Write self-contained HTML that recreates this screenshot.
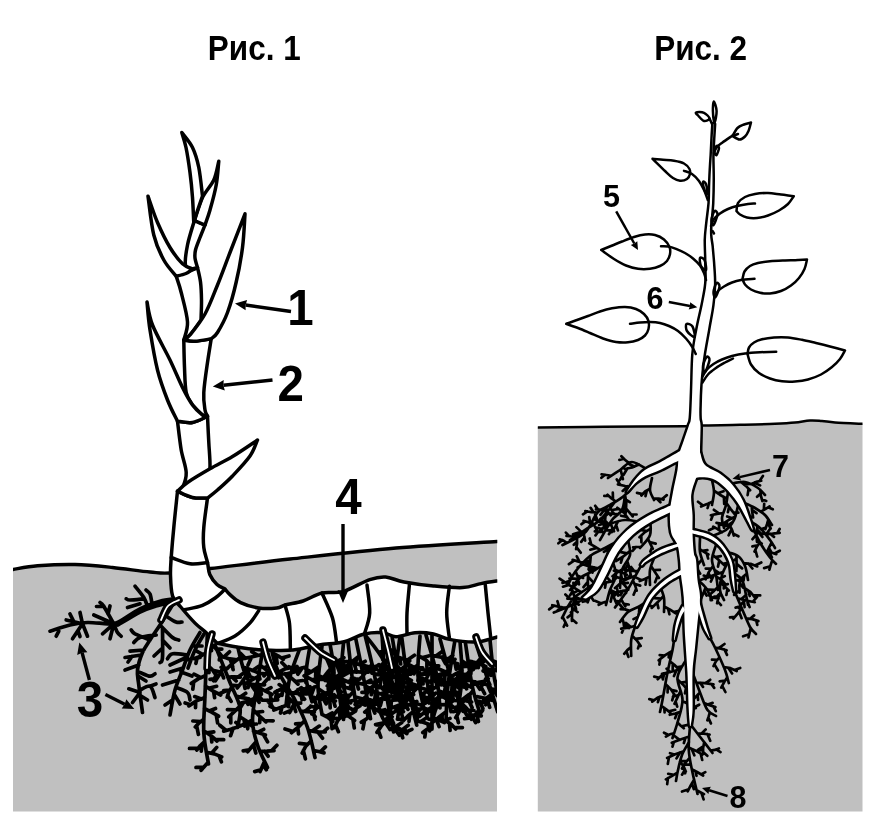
<!DOCTYPE html>
<html lang="ru"><head><meta charset="utf-8"><title>Рис. 1, Рис. 2</title>
<style>
html,body{margin:0;padding:0;background:#fff}
body{width:882px;height:828px;overflow:hidden}
svg{display:block;filter:grayscale(1)}
svg text{font-family:"Liberation Sans",Arial,Helvetica,sans-serif;font-weight:bold;fill:#000}
</style></head><body>
<svg width="882" height="828" viewBox="0 0 882 828">
<defs><clipPath id="cl2"><rect x="13" y="0" width="484.3" height="828"/></clipPath><clipPath id="cr2"><rect x="537.8" y="0" width="324.7" height="828"/></clipPath><clipPath id="cl"><rect x="13" y="540" width="484" height="271"/></clipPath>
<clipPath id="cr"><rect x="537.5" y="415" width="325" height="396"/></clipPath></defs>
<rect width="882" height="828" fill="#fff"/>
<path d="M13 569.5C17.1 568.9 27.2 566.6 37.5 565.8C47.8 565 62.5 564.2 75 564.5C87.5 564.8 100 566.2 112.5 567.5C125 568.8 140.4 571.1 150 572C159.6 572.9 160 573.6 170 573C180 572.4 190 570.8 210 568.5C230 566.2 259 562.4 290 559C321 555.6 361.5 550.9 396 548C430.5 545.1 480.2 542.6 497 541.5L497 811.6L13 811.6Z" fill="#c0c0c0" stroke="none" stroke-width="0" stroke-linecap="round" stroke-linejoin="round" />
<path d="M13 569.5C17.1 568.9 27.2 566.6 37.5 565.8C47.8 565 62.5 564.2 75 564.5C87.5 564.8 100 566.2 112.5 567.5C125 568.8 140.4 571.1 150 572C159.6 572.9 160 573.6 170 573C180 572.4 190 570.8 210 568.5C230 566.2 259 562.4 290 559C321 555.6 361.5 550.9 396 548C430.5 545.1 480.2 542.6 497 541.5" fill="none" stroke="#000" stroke-width="3.4" stroke-linecap="round" stroke-linejoin="round" clip-path="url(#cl2)"/>
<text transform="translate(254.3 59.6) scale(0.9 1)" font-size="35" text-anchor="middle">Рис. 1</text>
<g clip-path="url(#cl)">
<path d="M207.5 630C207.1 640.8 205.6 677.9 205 695C204.4 712.1 203.2 721 203.8 732.5C204.3 744 207.7 758.8 208.5 764M207 642.3L215.4 648.1L221.8 656.1M210.7 644.8L211.5 650.6M216 648.9L221.8 649.1M220.3 654.3L219.3 660M206.6 652.6L200.9 655.9L195.1 658.7M202.9 654.7L196.2 650.9M197.1 657.7L195.9 663.4M206.2 664L212.3 669.7L217.1 676.7M208.8 666.5L209 672.6M212.8 670.4L219.3 671.9M216 675L213.7 680.8M205.7 675.5L198.2 678.9L191.3 683.4M200.9 677.7L194 674.2M193.7 681.8L192.8 689.2M205.3 686.1L212.8 690.9L220.7 695M208.6 688.2L216.6 686.3M213.6 691.4L214.6 697.7M218.8 694L225.6 691M204.9 697.5L196.5 700.9L188.9 705.9M201.3 699L194.7 696.6M195.7 701.4L195.5 707.6M190.6 704.7L185.1 703M204.3 708.5L211.6 712.1L218.6 716.2M209.1 710.9L215.5 708.5M216.2 714.8L217.6 723M203.8 719.3L199.2 722.7L195.3 727M200.8 721.5L192.8 721M196.6 725.5L198.4 734.4M203.7 730.8L210.7 735.4L217 741M206.7 732.8L213.8 731.9M211.3 736L211.8 742M215.5 739.7L223.7 739.7M204.6 741.5L200.4 745.5L196.8 750M201.9 744.1L201.3 751.2M198.1 748.4L189.5 748.4M206.4 752.3L214.3 753.9L221.7 756.9M211.5 753.3L216.7 747.4M219.1 755.8L221.4 761.8M208.2 762.2L204.6 766.2L201.1 770.3M203.6 767.4L196 767.4M215 645C217.5 651.2 225.8 672.1 230 682.5C234.2 692.9 238.8 700 240 707.5C241.2 715 237.9 724.2 237.5 727.5M219.3 655.9L226 657.8L232.5 660.3M223.7 657.1L229.5 651.8M230.2 659.4L232.7 666.7M223.6 666.6L219.8 673.9L215.4 680.8M221.2 671.4L223.6 677.9M216.9 678.4L210 679.3M227.9 677.2L234.1 676.8L240.3 677.2M231.9 677L236.1 680.9M238.1 677L243 673.4M231.9 687L228.8 691.8L227.2 697.3M229.8 690.1L223.7 690.6M227.7 695.4L231.1 701.3M236.1 696.1L242.4 697.7L248.8 698.9M240.2 697.1L245.7 693.3M246.6 698.5L251.5 705M239.8 706.4L234.3 711.6L228.8 716.9M236.2 709.8L227.4 709.7M230.7 715L230.8 723M239.8 716.8L246.5 721.1L252.4 726.4M244.2 719.6L244.6 726.1M250.3 724.6L256.5 724M237.6 727L230.7 729.2L223.7 731.2M233.1 728.4L230.6 735.7M226.1 730.5L219.8 725.3M263.8 643.8C262.7 650.2 259.4 669.8 257.5 682.5C255.6 695.2 252.5 709.6 252.5 720C252.5 730.4 255 737.1 257.5 745C260 752.9 265.8 763.8 267.5 767.5M262 654.5L252.6 656.7L243.2 658.6M257.9 655.4L251.7 651.7M251.6 656.9L248 665.1M245.4 658.2L240.2 653.1M260.2 665.2L265.8 669.4L270.6 674.4M263.8 667.9L270.2 665.3M268.9 672.6L268.9 679M258.4 676.4L252.4 679.6L246.5 683M254.5 678.5L247.2 675.6M248.6 681.8L248.1 687.7M256.9 686.4L264.4 690.5L272 694.4M260.1 688.2L261.4 694.3M265.1 690.9L271 687.6M270.2 693.5L271.4 702.3M254.9 698.2L248.2 701.1L241.1 703.1M250.5 700.1L244.9 697.9M243.6 702.4L239.1 709.9M253.2 709.7L259.4 716L265.9 721.9M255.9 712.4L262.6 711.5M260 716.6L259.7 722.6M264.3 720.5L273.2 720.8M252.5 720L245.4 723.8L238 726.9M247.9 722.5L247.7 728.8M240.6 725.8L235.9 722.5M253.5 731L259.4 733.1L265.4 735M257.4 732.4L263.7 729.3M263.3 734.4L267.6 741.9M256.4 741.5L252 746.5L247.8 751.7M253.5 744.7L255.8 753M249.3 749.9L243.2 750.8M259.9 751.3L267 751.1L274 750.7M264.5 751.2L268.1 756.2M271.5 750.9L276.9 745.3M264.5 761.4L262.3 766.5L260.1 771.6M263.1 764.7L266.3 769.8M260.9 769.8L254.7 771.6M270 642.5C271.2 647.1 273.3 660.4 277.5 670C281.7 679.6 290 690.4 295 700C300 709.6 304.2 717.9 307.5 727.5C310.8 737.1 313.8 752.5 315 757.5M272.3 652.9L278 655.8L283.4 659.3M276 654.8L277.2 663.4M281.5 658.1L289 656M275.2 663.9L269.6 669.9L264 675.9M271.6 667.8L272.6 676.1M266 673.8L259.5 673.4M279.6 674.4L287.7 673.5L295.7 671.7M284.9 673.8L288.8 678.5M292.9 672.3L297 666.5M285 683.5L282.7 689.2L282 695.4M283.5 687.2L288.3 694.4M282.3 693.3L276.2 698.5M290.7 692.6L299.1 693.6L307.4 693.9M294.3 693L301.3 687.6M299.9 693.6L304.6 699.2M305.5 693.8L309.9 686.6M295.7 701.4L292.5 706.9L289.7 712.5M293.6 705L295.7 711.5M290.7 710.5L284.3 713.1M300.6 711.1L307.4 711.7L314.3 712.2M305 711.5L310.8 706.3M311.9 712L315.2 716.8M304.8 720.5L298.5 727L291.4 732.7M302.1 723.3L295.6 723.8M297.8 727.6L298.5 733.8M293 731.4L285 729M308.5 730.5L316.8 731.8L325.3 732M312.1 731.1L319.3 726.1M317.7 731.8L322.5 738.2M323.3 731.9L327.7 728.2M311.2 740.8L305.8 746.2L302.2 753M307.7 744.3L299.4 743.3M303.4 750.6L305.4 758.9M313.5 750.6L318.8 751.5L324 752.9M320.4 751.9L325.4 746.9M305 641C308.3 643.5 319.6 647.8 325 655.9C330.4 664 334.2 679.5 337.5 689.6C340.8 699.7 343.8 712.1 345 716.6M327.3 660L335.5 661.9L343.7 663.9M330.9 660.8L332.8 667M336.3 662.1L343.9 657.7M341.8 663.4L344.8 670.2M330.8 668.3L326.7 673.5L322.6 678.7M328.1 671.7L328.9 677.3M324 676.9L318.4 677.6M333.8 677.5L342.1 679.2L349.8 682.8M337.4 678.3L343.3 674.4M342.8 679.6L344.5 687.2M348 681.9L354.5 678.4M336.5 686.4L329.3 691.6L323.2 697.9M333.4 688.7L327.2 685.9M328.7 692.2L330.4 700M324.6 696.4L317.7 695.6M339.4 695.9L345.5 698.6L350.7 702.8M343.4 697.6L345.4 706M348.9 701.3L354.6 700.3M342 705.2L336.9 710.8L332.3 716.9M338.7 708.9L340.1 716.7M333.9 714.8L327.8 716M344.3 714.1L349.7 716.9L354.6 720.4M347.8 715.9L354.2 711.9M352.9 719.2L354.3 728M343.5 643C342.9 651.1 339.6 678.9 339.6 691.6C339.6 704.4 342.9 714.9 343.5 719.5M341.6 662.7L346.6 667.5L350.8 672.9M344.9 665.8L344.5 673.1M349.4 671L356.6 672.1M340.5 674.2L335.5 677.2L331.5 681.5M337.3 676.1L336.4 683M332.9 680L325.1 680M339.8 685L345.4 687.2L351.1 689.1M343.4 686.4L345.4 694.2M349.1 688.4L354.4 684M339.7 695.4L333.4 697.7L327.9 701.5M335.6 696.9L327.7 693.9M329.8 700.2L330.2 707.9M340.8 705.6L348.5 707.5L355.5 711.2M345.8 706.8L348.4 714M353.1 709.9L359.9 706M342.6 715L337.6 720.7L334.5 727.6M339.4 718.7L330.5 718M335.6 725.1L338.4 731.7M355 635C356.3 641.5 360.2 659.8 362.8 673.7C365.4 687.7 369.2 711.2 370.5 718.7M359.3 655.9L352.6 661.3L345.9 666.6M356.4 658.2L355.6 665.4M351.9 661.8L343.2 661.4M347.5 665.4L348.2 671.3M361.1 664.9L368.9 666.7L376.5 669.3M366.2 666.1L368.4 672.1M373.8 668.4L379 664.6M363.2 675.9L357 681.3L350.5 686.3M359.2 679.4L351.3 678.3M352.7 684.6L353.1 692.3M364.9 685.6L371.8 689.6L377.5 695.2M369.4 688.2L376.7 685.1M375.5 693.2L374.8 699.3M366.7 696L361.2 700.6L355.1 704.5M363.1 699L355.4 697.1M357.2 703.2L355.8 710.4M368.4 706L374.8 708.5L380.4 712.6M372.6 707.7L374.8 713.1M378.5 711.2L384.9 709.7M370 716L365.9 719.4L361.3 722.2M364.5 720.3L362.9 728.8M365 635C366.7 642.1 372.5 665 375 677.8C377.5 690.5 377.5 702.9 380 711.5C382.5 720.1 388.3 726.5 390 729.5M372.1 664.2L368.3 669.3L364.4 674.2M369.6 667.5L371.9 673.1M365.7 672.5L358.4 671.8M374.2 673.6L383.2 675.7L391.7 679.7M378.1 674.6L383.1 671M384.1 676.1L384.9 684M389.7 678.7L397.2 675.6M376 683.5L370.5 688.3L366.5 694.4M372.4 686.6L371.3 694.7M367.9 692.3L361.9 692.3M377.1 692.7L385.7 695.5L394.6 697.6M380.9 693.9L386.1 691.3M386.6 695.8L390.8 703.2M392.5 697.1L400.2 693M378.3 702.8L371.1 706.8L364.7 712.1M373.6 705.4L367.8 702.3M367 710.2L367.9 716.6M380.4 712.8L386.6 714.1L392.2 716.8M384.4 713.7L389.5 708.8M390.2 715.9L393.6 723.4M384.7 721.7L380.7 726.9L377 732.4M382.1 725.1L376.3 724.9M378.3 730.5L380.8 737.2M390 729.5L397.6 729L405.2 729.8M395 729.2L399.3 735.2M402.6 729.5L408.2 725.3M382 633.5C382.7 643 384.1 674.2 386 690.6C387.9 707.1 392.3 725.1 393.6 732M383.9 666.2L390.6 668.7L397.6 670.3M388.3 667.8L394 664.8M395.1 669.7L398.7 676.8M384.7 676.1L379.2 679.4L374.9 683.9M381.1 678.2L380.1 685.3M376.5 682.3L368.3 682.4M385.4 685.3L392.2 688.3L398.1 692.5M389.8 687.2L391.8 692.8M396.1 691L402.5 689.9M386.6 695.6L379.9 699.3L373 702.8M382.3 698L380.3 705.9M375.4 701.6L369.2 699.6M388.3 705.5L395.9 708.3L403.5 711.6M393.2 707.4L400 704.6M400.8 710.4L402.9 718.7M390.1 714.9L385.9 719.4L382.7 724.5M387.3 717.8L388.5 724.8M383.8 722.7L375.6 724.5M392.2 725L399.8 728.9L406.9 733.6M395.5 726.7L401.6 722.8M400.5 729.3L402.7 737.8M405.2 732.5L411.9 729.4M401 631.5C402.3 641.3 406.4 674.8 409 690.5C411.6 706.1 415.4 719.4 416.7 725.2M405 662.3L413.6 667L420.7 673.8M408.7 664.3L411.5 672.8M414.3 667.7L422.7 667.9M419 672.2L417.9 680.6M406.4 672.7L400.1 679.6L393.6 686.2M403.7 675.7L397.3 674.8M399.5 680.2L401.3 687.8M395.1 684.6L389.1 684.6M407.7 682.4L414 684.5L420.3 686.5M411.8 683.7L415.1 689.5M418.1 685.8L422.9 681.7M409.4 692.8L403.9 696.3L399.8 701.3M405.8 695.1L406.2 701.6M401.3 699.6L392.8 700.2M411.1 701.7L417.1 703.6L423 705.9M415 702.9L416.8 710.7M420.9 705.1L426.1 702.7M413.4 711.5L407.9 716L403 721M409.8 714.4L409 721.4M404.7 719.3L397.4 719.1M415.7 720.9L423.1 722.3L430.2 724.8M420.5 721.8L427.4 717.2M427.7 723.9L429.7 730.9M432 635.4C432 644.6 432 675.2 432 690.8C432 706.5 432 722.7 432 729.1M432 667.2L425.7 672L419.2 676.6M427.9 670.3L421.6 669.5M421.5 675L421.6 681.6M432 676.9L440.2 681.7L447.1 688.2M435.6 679L437.1 687.5M440.9 682.3L448.5 682.6M445.5 686.6L444.3 692.3M432 688.4L426.9 691.1L422.2 694.3M428.7 690.1L421.8 688.2M423.9 693.2L423.8 699.9M432 697.9L436.5 701.7L440.1 706.5M435 700.4L435.9 709.1M438.8 704.8L444.6 704.7M432 707L425.5 711.3L419.6 716.4M427.7 709.8L426.9 715.7M421.6 714.6L415.7 714.6M432 717.4L438.3 719.8L444.4 722.5M436.1 718.9L439.1 726.6M442.3 721.5L450 718.4M432 726.9L427.1 729.2L422.8 732.5M425.8 730.2L424.8 737M440 639C442.5 647.7 450.5 678.5 455 691.2C459.5 704 465 711.5 467 715.5M445.9 660.5L451.8 662.3L457.8 663.7M449.7 661.6L455 659.3M455.7 663.2L460.7 670.4M448.5 669.8L443.2 674.2L437.5 678.1M445.1 672.7L444.7 679.4M439.5 676.8L434.3 674.3M451.1 678.9L459.6 680.2L468.1 680.7M454.8 679.5L461.8 675.3M460.4 680.3L464.1 687.1M466.1 680.6L469.4 675.9M454.3 689.2L450.1 694L445.3 698.3M451.5 692.3L453.7 700.7M446.9 696.8L441.1 695.3M457.8 698.2L464.6 700.5L471.6 702.1M462.2 699.7L468.7 694.7M469.2 701.5L472.1 707.6M461.9 706.6L458.9 712.2L455.7 717.7M460 710.3L453.2 711.7M456.8 715.8L458.4 722.6M466.7 714.9L474 715.1L481.3 715.8M471.4 715L475.6 722.6M478.7 715.6L482.6 710.3M474.5 639C476.4 644.9 482.1 662 486 674.1C489.9 686.2 495.8 705.6 497.7 711.9M480.8 658.2L476.4 663.5L471.3 668.1M478 661.6L478.3 667.7M473.1 666.5L464.5 665.4M484.2 668.4L490.8 669.7L497.5 670.7M488.5 669.2L491.1 675.3M495.2 670.3L500.4 666.5M487.2 677.9L483.2 683.3L479.9 689M484.6 681.4L478.5 682.3M481.1 687L484.6 693.7M490.5 688.6L497 690.4L503.7 691.3M494.7 689.8L497 695.3M501.3 691L505.6 687.1M493.2 697.3L489 700.6L485.5 704.7M487.9 701.8L489.7 707.3M496.1 706.7L501.9 709L506.9 712.6M499.8 708.2L501 715M505.2 711.4L511.8 708.7M420 636C419.7 642.6 417.2 662.7 418 675.6C418.8 688.5 423.8 707.1 425 713.4M418.4 655.7L426.3 660.3L432.5 667.1M421.8 657.7L428.5 656M426.9 661L426.9 667.3M431 665.5L438.7 665.9M417.9 664.9L411 669.7L405.8 676.5M414.9 667L414.1 673.8M410.5 670.4L404.6 670.4M407 674.9L407.5 682.2M418 675.6L424.6 679.3L431.4 682.7M422.3 678L423.1 683.9M429 681.5L436.6 679.2M419.3 686.1L414.2 691L410.1 696.7M416 689.3L408.5 689M411.5 694.7L412.9 701.6M421.4 697L429.8 697.9L438 700.1M425 697.4L429.1 703M430.6 698.1L435.7 693.2M436.1 699.6L439.3 704.6M423.5 706.7L419.4 710.3L415.8 714.5M420.8 709L415 708.8M417 713L417.4 721.3M455 640C453.8 647.5 449.5 671.5 448 685C446.5 698.5 446.3 715 446 721M451.6 660.2L456.8 664.1L461.3 668.6M455 662.7L456.2 669.2M459.7 667L468.4 666.1M450 670.7L444.1 673.1L438.1 675.1M446.1 672.2L438.4 668.7M440.2 674.4L435.7 681.8M448.5 680.7L454.2 684.6L459.8 688.8M452.2 683.3L451.8 691M457.8 687.3L463.6 685.2M447.4 691.2L440.2 695.7L433.6 701.1M444.3 693.2L438.6 690.6M439.5 696.2L438.8 703.2M435.2 699.8L428.4 698.5M446.7 701.8L451.3 705.5L455.9 709.1M449.7 704.2L451 711.6M454.3 707.8L459.8 706.1M446.4 711.4L439.8 716.4L433.5 721.6M442.1 714.6L442.1 721.3M435.7 719.8L428.8 719.1M446 721L451.3 724.4L455.7 729M449.5 723.2L450.1 730.5M454.2 727.4L462.4 727.6M465 640C466.2 647.5 469.5 672.7 472 685C474.5 697.3 478.7 709 480 713.8M468 660.7L477.1 663L485.8 666.5M471.9 661.7L475.8 667.6M478 663.4L484.6 660.9M483.8 665.7L485.5 671.2M469.6 671.3L464.1 677.5L458.6 683.7M467.2 674L460 675M463.6 678.2L464.4 687M459.9 682.3L451.4 683M471.2 681L480.4 683.3L489.6 685.1M475.2 682L479.9 689.2M481.3 683.5L488.2 678.7M487.5 684.7L490.6 692M473.2 690.5L468 696.7L462.3 702.6M469.8 694.5L470.3 703.2M464.3 700.6L455.9 700.7M476 700.7L481.7 702.1L487.4 702.8M479.7 701.6L482.9 708.6M485.4 702.6L490.9 698.4M478.9 710.1L475.1 714.6L471.4 719.2M476.4 713L478.4 721.5M472.7 717.6L464.5 718.7M322 646C321.3 652.6 318 674.2 318 685.6C318 697 321.3 709.6 322 714.4M319.5 666.3L312 671.4L304.1 675.9M316.2 668.5L315.6 676.1M311.2 671.8L305.9 669.1M305.9 674.9L305.9 682.6M318.5 675.5L325 679L330.7 683.6M322.8 677.8L329 675.1M328.7 682L328.2 689.1M318 685.6L312.2 688.1L307.4 692.2M314.2 687.2L311.1 695.6M309.1 690.7L300.7 688.1M318.7 695.9L327 698.6L335.4 701M322.3 697.1L326.1 703.8M327.9 698.8L334.1 694.8M333.4 700.4L335.1 706.2M320.3 705.5L315.5 709.1L311.9 714.1M317.2 707.8L310.7 706.2M313.2 712.3L315.1 719.5M322 714.4L327.8 717.3L332.8 721.5M325.8 716.3L332.3 713M331.1 720L332.1 728.7M300 648C298.3 652.8 292.3 667.2 290 676.8C287.7 686.4 286.7 700.8 286 705.6M292.9 667.3L284.8 669L277.6 672.9M287.6 668.4L281.8 662.5M280.1 671.5L278.6 677.9M290 676.8L294.1 680.3L298 684.1M295.3 681.5L302.8 680.5M288.2 686.3L281.4 689L274.9 692.2M283.8 688L279.2 684.6M277.2 691L275.6 697.9M287 696.2L291 700.4L295.1 704.4M289.6 698.9L288.4 706.6M293.7 703L300.7 703.1M286 705.6L279.9 707.7L273.8 710M282 707L280.5 713M276 709.2L270 706.3M238 648C239.3 652.7 242 667.3 246 676C250 684.7 259.3 696 262 700M240.2 657.4L232.6 663.3L225.6 669.9M236.9 659.9L229.9 658.8M231.9 664L233.1 669.7M227.3 668.4L221.1 667.3M242.8 667L251.5 670.1L260.2 673.5M246.6 668.4L249.8 675.8M252.4 670.5L259.5 665.9M258.2 672.7L259.9 679M246 676L241.8 682.1L237.3 688M243.3 679.9L245 688.5M238.9 685.9L233 685.4M250.7 684.2L257.6 684.9L264.6 684.8M255.2 684.7L258.8 692M262.2 684.9L268 678.6M256.4 692.3L254.5 698.1L252.1 703.7M255.2 696.1L259.1 702.4M253 701.8L247.9 704.3M262 700L269.9 700.3L277.7 699.8M267.1 700.2L272 706M275 700L278.6 694.9M400 636C399.3 642.6 395.7 663.6 396 675.6C396.3 687.6 401 702.6 402 708M397.3 656.1L392.2 659.3L386.7 662.1M394 658.2L394.2 666.2M388.6 661.1L382.7 659.6M396.4 665.3L402.2 671.3L406.1 678.7M398.9 667.9L399.3 675.5M402.6 672L410.7 674.2M405.2 677L401.1 684.6M396 675.6L390.5 677.8L384.8 679.4M392.4 677L389.6 682.7M386.8 678.9L381.6 676.3M396.9 685L405.3 687.1L413.6 689.4M400.6 685.9L405.5 682.4M406.1 687.3L408.6 694.7M411.7 688.9L417.5 685.4M398.8 694.3L394.4 698.8L389.6 702.8M395.9 697.2L389.1 696.2M391.3 701.4L390.7 710.3M401 703.7L407.9 704.6L414.7 705.8M405.5 704.3L408 709.4M412.3 705.4L416.8 701.5M490 640C490.7 646 492.3 665.5 494 676C495.7 686.5 499 698.5 500 703M492.1 660.5L500.1 664L507.3 669M495.6 662L497.3 668.4M500.8 664.5L508 662.8M505.6 667.9L506.9 675.9M493.3 670.7L488.7 674.6L485.4 679.6M490.3 673.3L483.1 670.9M486.6 677.9L489.8 684.5M494.8 680.8L501.7 684.4L508.7 687.5M499.3 683.1L500.6 689M506.2 686.4L511.4 683.6M496.9 690.3L490.5 695.3L483.9 700.1M492.7 693.6L492.2 700.5M486.2 698.5L477.7 696.7M499.2 699.5L504.6 700.1L509.6 702.3M506.1 700.8L508.5 707.4M310 646C309.3 651.1 305.7 667.3 306 676.6C306.3 685.9 311 697.6 312 701.8M306.6 666.9L299.8 668.5L293.5 671.5M302.2 667.9L297.9 674.2M295.7 670.4L289 666.8M306 676.6L310.9 679.1L315.5 682M312.3 680L319.8 677M307.6 686.8L303.5 690.8L299.3 694.7M305 689.4L297.8 689.7M300.8 693.3L302 699.7M310.3 696.3L315.6 697.9L320.9 699.5M313.8 697.3L316.6 705.8M319.1 699L325.2 694.3M330 644C330.7 648.8 334 663.5 334 672.8C334 682.1 330.7 695.3 330 699.8M333.3 663.4L338.8 666.1L343.6 670.1M336.9 665.2L339.6 672.5M341.9 668.7L348 668.2M334 672.8L329.2 676.3L325.1 680.5M330.9 675L329.5 682.7M326.5 679L320.2 679.4M333.3 681.9L337.6 686.8L341.2 692.2M336.1 685.1L343.3 684.4M339.9 690.3L337.6 697.1M331.7 691L326.5 692.6L321.5 694.8M325 693.3L319.1 689.3M348 642C348.7 647.7 350.7 665.7 352 676.2C353.3 686.7 355.3 700.2 356 705M350.2 661.3L358.5 664.2L366.8 667.3M353.8 662.5L356.1 670M359.3 664.5L365.2 661.3M364.9 666.5L366.6 672.2M351.4 671L345.3 674.5L339.3 678M347.4 673.3L340.6 671.5M341.4 676.8L339.9 684.3M352.6 681.1L359 683.2L365.5 684.6M356.8 682.4L358.4 689M363.2 684.1L370.7 680.1M354 691.1L348.5 697.1L344.3 704.1M350.4 695L342.2 695.6M345.8 701.6L349.2 708.2M355.5 701.2L360.3 703L365.1 705.1M361.8 703.6L368.7 700.1M392 636C393 642 396 660 398 672C400 684 403 702 404 708M395.3 655.9L402.4 658.8L409.7 660.9M399.9 657.8L400.7 664M407.1 660.2L414.4 655.3M397 666.3L390.5 671.1L384.1 676.2M392.8 669.4L391.8 676.3M386.3 674.4L379.3 674.2M398.6 675.8L405.2 677.6L411.4 680.5M402.9 677L408.9 674M409.2 679.5L411.9 687.9M400.3 686L392.8 690L384.8 693M397.1 687.7L395.2 693.5M392 690.3L385.1 685.5M386.7 692.3L384.6 699.2M402 696.2L408.1 699.3L414.6 701.7M406 698.2L413.6 694.5M412.3 700.9L414 707.7M403.6 705.9L396.9 710.3L390.3 714.8M399.3 708.7L397.8 717.1M392.6 713.2L385.8 711.9M426 635C427.7 641.1 433.7 659.8 436 671.9C438.3 684 439.3 701.9 440 707.9M432 655.4L441.2 657.1L450.2 659.6M435.9 656.1L442.2 651.4M442.1 657.3L445.5 663.7M448.1 659L452.8 655.4M434.7 666.1L429.3 673L425.3 680.7M432.4 669.1L432.9 677.5M428.9 673.7L420.7 674.3M426.2 678.9L428.4 687M436.7 675.7L443.1 679.7L447.9 685.5M440.8 678.3L441.3 684.8M446.2 683.5L452.3 684.3M438 686L432.8 689L428.2 692.7M434.6 687.9L427.9 686.2M429.8 691.4L429.7 699.1M439 696.1L446.1 697.8L452.4 701.4M443.6 697.2L450.4 693.2M450.2 700.1L451.6 708.1M439.8 705.8L434.2 708.5L428.7 711.6M436.1 707.5L433.8 715.6M430.6 710.5L423.6 707.9M460 641C460.3 646.9 462.3 664.9 462 676.1C461.7 687.4 458.7 703.1 458 708.5M461.5 660.6L467.6 664.8L473.3 669.5M465.5 663.3L473.1 662.2M471.3 667.9L470.8 674M462 670.6L456.1 673.7L450.4 677.2M458.2 672.6L457.4 679.4M452.4 675.9L443.9 673.4M461.7 681.4L466.4 684.3L471.1 687.3M464.8 683.3L466.6 688.8M469.5 686.2L477.8 682.8M460.6 690.8L454 695L447.8 699.8M456.3 693.5L448.4 692.4M449.9 698.2L450 704.9M459.1 701.2L464.9 706.5L470.1 712.2M462.8 704.6L463.1 711.4M468.2 710.2L474 710.5M366 636C369 640.2 379 651.6 384 661.2C389 670.8 394 688.2 396 693.6M378.5 652.3L385 650.8L391.7 650.1M382.7 651.3L385 644.9M389.4 650.3L395.1 654.8M384 661.2L381.6 666.5L379.1 671.9M382.4 664.7L374.9 666.6M380 670L383 674.9M387.7 669.6L395.5 669.4L403.3 669.8M392.8 669.5L396.9 673.8M400.6 669.6L407.2 664.5M391.1 679L386.2 683.5L382.8 689.2M387.9 681.9L388.6 689.6M384 687.2L376.4 687.9M394 687.6L400.7 689.9L407.5 692.3M398.4 689.1L403.6 685.7M405.1 691.5L407.7 699.6" fill="none" stroke="#000" stroke-width="3.7" stroke-linecap="round" stroke-linejoin="round" />
<path d="M175 598.8C172.5 599.2 165.8 599.6 160 601.2C154.2 602.9 147.1 605.2 140 608.8C132.9 612.3 122.9 620 117.5 622.5C112.1 625 112.5 623.8 107.5 623.8C102.5 623.8 93.8 622.3 87.5 622.5C81.2 622.7 76.2 623.5 70 625C63.8 626.5 53.3 630.2 50 631.2M172 602.5C169.3 603.1 161.3 604.4 156 606C150.7 607.6 146.3 608.8 140 612C133.7 615.2 121.7 622.8 118 625M147.5 606.2C146.9 604.8 145.8 600.8 143.8 597.5C141.7 594.2 136.5 588.1 135 586.2M143.8 598.8C141.5 599 132.9 600 130 600C127.1 600 126.9 599 126.2 598.8M140 603.8L127.5 607.5M152 604C151.7 602.3 151 596.3 150 594C149 591.7 146.7 590.7 146 590M113.8 623.8C112.1 620.8 106 609.8 103.8 606.2C101.5 602.7 100.6 603.1 100 602.5M103.8 606.2L96.5 606.5M113.8 623.8L93.8 615M113.8 623.8L102.5 633.8M113.8 623.8L110 638.8M113.8 623.8C114.4 625.2 116.2 630.4 117.5 632.5C118.8 634.6 120.6 635.6 121.2 636.2M108 614L110 606M82.5 623.8L80 612.5M82.5 623.8L66.2 620M82.5 623.8L72.5 638.8M78 631L80 636.5M82.5 623.8L87.5 636.2M58.8 631.2L56.2 636.2M74 622L70 614M172.5 605C170.4 608.3 163.8 619.2 160 625C156.2 630.8 152.9 635.4 150 640C147.1 644.6 144.6 647.5 142.5 652.5C140.4 657.5 138.1 664.6 137.5 670C136.9 675.4 137.9 677.9 138.8 685C139.6 692.1 141.9 707.9 142.5 712.5M150 640C147.5 639 138.1 635.4 135 633.8C131.9 632.1 131.9 630.6 131.2 630M143.8 650L130 651.2M141.2 655L125 657.5M132 656.5L128 662M138.8 665L125 670M140 672.5C141.7 673.1 147.5 676 150 676.2C152.5 676.5 154.2 674.2 155 673.8M138 676L146 681M140 692.5L128.8 688.8M140 692.5L132.5 702.5M140 690C141.7 689.4 147.5 685 150 686.2C152.5 687.5 154.2 695.6 155 697.5M141 696L147.5 700M150 686.2L156 684M160 625C162.1 627.1 169.4 635 172.5 637.5C175.6 640 177.7 639.6 178.8 640M162.5 627.5C162.5 632.5 162.9 651.7 162.5 657.5C162.1 663.3 160.4 661.7 160 662.5M156.2 635C153.5 635.4 143.8 636.2 140 637.5C136.2 638.8 134.8 641.7 133.8 642.5M162.5 640L170 648M162.5 648L154 656M166 616C167.7 617 173.3 621 176 622C178.7 623 181 622 182 622M200 632.5C198.3 635.4 192.9 643.8 190 650C187.1 656.2 185 663.3 182.5 670C180 676.7 177.1 682.5 175 690C172.9 697.5 170.8 710.8 170 715M204 634C202.5 636.7 197.7 644.3 195 650C192.3 655.7 189.2 665 188 668M187.5 655C185 654.8 175.8 653.1 172.5 653.8C169.2 654.4 168.3 657.9 167.5 658.8M186.2 657.5L170 665M185 660L200 657.5M192 646L202 646M178.8 680L162.5 685M176.2 687.5C178.1 688.3 185.2 690.4 187.5 692.5C189.8 694.6 189.6 698.8 190 700M172.5 700L165 705M181 672L192 676M183 668L170 672M174 694L180 704" fill="none" stroke="#000" stroke-width="3.7" stroke-linecap="round" stroke-linejoin="round" />
</g>
<g clip-path="url(#cl2)">
<path d="M177.5 491.2C176.9 497.3 174.8 516.5 173.8 527.5C172.7 538.5 171.8 549.6 171.2 557.5C170.7 565.4 170.3 568.6 170.5 575C170.7 581.4 170.9 590.7 172.6 596C174.3 601.3 177 602.4 180.8 607C184.6 611.6 191.1 619.1 195.3 623.4C199.5 627.6 202.4 629.2 206 632.5C209.6 635.8 215.2 641.2 217 643C220.3 643.7 230.1 645.9 237 647C243.9 648.1 249.4 649.2 258.7 649.7C268 650.2 282.9 650.8 293 650C303.1 649.2 310.7 646.3 319 645C327.3 643.7 335.4 643.8 343 642C350.6 640.2 357.7 635.5 364.4 634C371.1 632.5 377.7 632.3 383 632.8C388.3 633.2 390.7 636.7 396 636.7C401.3 636.7 408.8 633.2 415 632.8C421.2 632.3 427.8 632.9 433.5 634C439.2 635.1 442.3 638.1 449.4 639.4C456.5 640.7 468.1 642.4 476 642C483.9 641.6 493.5 637.8 497 637L497 581C494.3 581.4 486.7 582.5 481 583.6C475.3 584.7 470.6 587.2 462.7 587.6C454.8 588 443.3 586.9 433.5 586C423.7 585.1 412 583.5 404 582C396 580.5 391.3 577.4 385.6 577C379.9 576.6 376.8 577.2 369.7 579.6C362.6 582 350.9 589.4 343 591.6C335.1 593.8 328.7 591.4 322 593C315.3 594.6 309 599 303 601C297 603 290.3 603.6 285.9 604.8C281.5 606 281.3 607.5 276.8 608C272.3 608.5 264.7 608.9 258.7 608C252.7 607.1 245.4 604.9 240.6 602.6C235.8 600.3 232.3 596.7 229.7 594.4C227.1 592.1 225.8 589.9 225 589C223.7 588.2 219.5 586.9 217 584.5C214.5 582.1 211.4 578.2 209.8 574.5C208.2 570.8 208.5 567 207.5 562.5C206.5 558 204.4 553.3 203.8 547.5C203.1 541.7 203.1 535.8 203.8 527.5C204.4 519.2 206.9 502.9 207.5 498Z" fill="#fff" stroke="none" stroke-width="0" stroke-linecap="round" stroke-linejoin="round" />
<path d="M177.5 491.2C176.9 497.3 174.8 516.5 173.8 527.5C172.7 538.5 171.8 549.6 171.2 557.5C170.7 565.4 170.3 568.6 170.5 575C170.7 581.4 170.9 590.7 172.6 596C174.3 601.3 177 602.4 180.8 607C184.6 611.6 191.1 619.1 195.3 623.4C199.5 627.6 202.4 629.2 206 632.5C209.6 635.8 215.2 641.2 217 643C220.3 643.7 230.1 645.9 237 647C243.9 648.1 249.4 649.2 258.7 649.7C268 650.2 282.9 650.8 293 650C303.1 649.2 310.7 646.3 319 645C327.3 643.7 335.4 643.8 343 642C350.6 640.2 357.7 635.5 364.4 634C371.1 632.5 377.7 632.3 383 632.8C388.3 633.2 390.7 636.7 396 636.7C401.3 636.7 408.8 633.2 415 632.8C421.2 632.3 427.8 632.9 433.5 634C439.2 635.1 442.3 638.1 449.4 639.4C456.5 640.7 468.1 642.4 476 642C483.9 641.6 493.5 637.8 497 637" fill="none" stroke="#000" stroke-width="3.5" stroke-linecap="round" stroke-linejoin="round" />
<path d="M497 581C494.3 581.4 486.7 582.5 481 583.6C475.3 584.7 470.6 587.2 462.7 587.6C454.8 588 443.3 586.9 433.5 586C423.7 585.1 412 583.5 404 582C396 580.5 391.3 577.4 385.6 577C379.9 576.6 376.8 577.2 369.7 579.6C362.6 582 350.9 589.4 343 591.6C335.1 593.8 328.7 591.4 322 593C315.3 594.6 309 599 303 601C297 603 290.3 603.6 285.9 604.8C281.5 606 281.3 607.5 276.8 608C272.3 608.5 264.7 608.9 258.7 608C252.7 607.1 245.4 604.9 240.6 602.6C235.8 600.3 232.3 596.7 229.7 594.4C227.1 592.1 225.8 589.9 225 589C223.7 588.2 219.5 586.9 217 584.5C214.5 582.1 211.4 578.2 209.8 574.5C208.2 570.8 208.5 567 207.5 562.5C206.5 558 204.4 553.3 203.8 547.5C203.1 541.7 203.1 535.8 203.8 527.5C204.4 519.2 206.9 502.9 207.5 498" fill="none" stroke="#000" stroke-width="3.5" stroke-linecap="round" stroke-linejoin="round" />
<path d="M171.2 557.5C174.4 558.5 184 562.9 190 563.8C196 564.6 204.6 562.7 207.5 562.5" fill="none" stroke="#000" stroke-width="3.5" stroke-linecap="round" stroke-linejoin="round" />
<path d="M184.4 609.8C187.4 609 197.4 607.3 202.5 605.3C207.6 603.3 211.6 600.6 215.2 598C218.8 595.4 222.8 591.2 224.3 589.9" fill="none" stroke="#000" stroke-width="3.5" stroke-linecap="round" stroke-linejoin="round" />
<path d="M218 643.3C220.8 642.1 229.7 639.3 235 636C240.3 632.7 245.7 627.6 249.6 623.4C253.5 619.2 257.2 612.8 258.7 610.7" fill="none" stroke="#000" stroke-width="3.5" stroke-linecap="round" stroke-linejoin="round" />
<path d="M285 605.3C285.8 608.3 288.6 616 289.5 623.4C290.4 630.8 290.2 645.3 290.4 649.7" fill="none" stroke="#000" stroke-width="3.5" stroke-linecap="round" stroke-linejoin="round" />
<path d="M322 593C323.8 597.2 330.1 609.8 332.5 618C334.9 626.2 335.8 638 336.5 642" fill="none" stroke="#000" stroke-width="3.5" stroke-linecap="round" stroke-linejoin="round" />
<path d="M367 585C367.4 589.6 370.1 604.6 369.7 612.8C369.3 621 365.3 630.5 364.4 634" fill="none" stroke="#000" stroke-width="3.5" stroke-linecap="round" stroke-linejoin="round" />
<path d="M409.5 583.6C409.1 588.5 407.4 604.4 407 612.8C406.6 621.2 407 630.5 407 634" fill="none" stroke="#000" stroke-width="3.5" stroke-linecap="round" stroke-linejoin="round" />
<path d="M449.4 586.3C448.9 590.7 446.7 604.2 446.7 612.8C446.7 621.4 448.9 633.8 449.4 638" fill="none" stroke="#000" stroke-width="3.5" stroke-linecap="round" stroke-linejoin="round" />
<path d="M485.3 585C485.8 589.6 487.1 604.2 488 612.8C488.9 621.4 490.2 632.7 490.6 636.7" fill="none" stroke="#000" stroke-width="3.5" stroke-linecap="round" stroke-linejoin="round" />
<path d="M179 600C177.2 601 171 602.7 168 606C165 609.3 162.2 617.7 161 620" fill="none" stroke="#000" stroke-width="7.5" stroke-linecap="round" stroke-linejoin="round" />
<path d="M179 600C177.2 601 171 602.7 168 606C165 609.3 162.2 617.7 161 620" fill="none" stroke="#fff" stroke-width="1.8" stroke-linecap="round" stroke-linejoin="round" />
<path d="M212 634C211.3 636.7 208.8 644.3 208 650C207.2 655.7 207.2 665 207 668" fill="none" stroke="#000" stroke-width="7.5" stroke-linecap="round" stroke-linejoin="round" />
<path d="M212 634C211.3 636.7 208.8 644.3 208 650C207.2 655.7 207.2 665 207 668" fill="none" stroke="#fff" stroke-width="1.8" stroke-linecap="round" stroke-linejoin="round" />
<path d="M263 642C263.8 645 266 654.3 268 660C270 665.7 273.8 673.3 275 676" fill="none" stroke="#000" stroke-width="7.5" stroke-linecap="round" stroke-linejoin="round" />
<path d="M263 642C263.8 645 266 654.3 268 660C270 665.7 273.8 673.3 275 676" fill="none" stroke="#fff" stroke-width="1.8" stroke-linecap="round" stroke-linejoin="round" />
<path d="M305 638C307.5 640.3 315.2 648.3 320 652C324.8 655.7 331.7 658.7 334 660" fill="none" stroke="#000" stroke-width="7.5" stroke-linecap="round" stroke-linejoin="round" />
<path d="M305 638C307.5 640.3 315.2 648.3 320 652C324.8 655.7 331.7 658.7 334 660" fill="none" stroke="#fff" stroke-width="1.8" stroke-linecap="round" stroke-linejoin="round" />
<path d="M383 630C383.8 633.3 386.5 643.7 388 650C389.5 656.3 391.3 665 392 668" fill="none" stroke="#000" stroke-width="7.5" stroke-linecap="round" stroke-linejoin="round" />
<path d="M383 630C383.8 633.3 386.5 643.7 388 650C389.5 656.3 391.3 665 392 668" fill="none" stroke="#fff" stroke-width="1.8" stroke-linecap="round" stroke-linejoin="round" />
<path d="M476 637C477 639.5 479.3 647.5 482 652C484.7 656.5 490.3 662 492 664" fill="none" stroke="#000" stroke-width="7.5" stroke-linecap="round" stroke-linejoin="round" />
<path d="M476 637C477 639.5 479.3 647.5 482 652C484.7 656.5 490.3 662 492 664" fill="none" stroke="#fff" stroke-width="1.8" stroke-linecap="round" stroke-linejoin="round" />
</g>
<path d="M177.5 421.2C178.1 426 179.8 441.5 181.2 450C182.7 458.5 186 466.2 186.2 472.5C186.5 478.8 184 484.4 182.5 487.5C181 490.6 178.3 490.6 177.5 491.2L177.5 491.2C180 492.3 187.5 496.4 192.5 497.5C197.5 498.6 205 497.9 207.5 498L207.5 498C207.9 493 209.8 477.2 210 468C210.2 458.8 209.2 451.1 208.8 442.5C208.3 433.9 207.7 420.6 207.5 416.2L207.5 416.2C205 417.3 197.5 421.7 192.5 422.5C187.5 423.3 180 421.5 177.5 421.2Z" fill="#fff" stroke="#000" stroke-width="3.5" stroke-linecap="round" stroke-linejoin="round" />
<path d="M177.5 491.2C179.2 489.8 182.1 486.2 187.5 482.5C192.9 478.8 202.5 473.1 210 468.8C217.5 464.4 224.6 461.3 232.5 456.5C240.4 451.7 253.3 442.8 257.5 440L257.5 440C256.2 442.7 254.2 450 250 456C245.8 462 237.9 470.3 232.5 476C227.1 481.7 221.7 486.3 217.5 490C213.3 493.7 209.2 496.7 207.5 498L207.5 498C205 497.9 197.5 498.6 192.5 497.5C187.5 496.4 180 492.3 177.5 491.2Z" fill="#fff" stroke="#000" stroke-width="3.5" stroke-linecap="round" stroke-linejoin="round" />
<path d="M183.8 340C183.9 344.6 184.1 358.8 184.5 367.5C184.9 376.2 184.9 386.2 186.2 392.5C187.6 398.8 191.5 402.9 192.5 405L192.5 405C194.2 406.7 200 413.1 202.5 415C205 416.9 206.7 416 207.5 416.2L207.5 416.2C207.1 415.2 205.6 414 205 410C204.4 406 203.3 400.4 203.8 392.5C204.2 384.6 206.2 371.5 207.5 362.5C208.8 353.5 210.6 342.7 211.2 338.8L211.2 338.8C208.5 339.2 199.6 341 195 341.2C190.4 341.5 185.6 340.2 183.8 340Z" fill="#fff" stroke="#000" stroke-width="3.5" stroke-linecap="round" stroke-linejoin="round" />
<path d="M147 302C147.5 306.7 148.2 318.7 150 330C151.8 341.3 154.6 358.3 157.5 370C160.4 381.7 164.2 391.5 167.5 400C170.8 408.5 175.8 417.7 177.5 421.2L177.5 421.2C180 421.5 187.5 423.3 192.5 422.5C197.5 421.7 205 417.3 207.5 416.2L207.5 416.2C206.7 416 205 416.9 202.5 415C200 413.1 195.8 409.6 192.5 405C189.2 400.4 186.2 395 182.5 387.5C178.8 380 175 370.4 170 360C165 349.6 156.3 334.7 152.5 325C148.7 315.3 147.9 305.8 147 302Z" fill="#fff" stroke="#000" stroke-width="3.5" stroke-linecap="round" stroke-linejoin="round" />
<path d="M176.2 276.2C177.1 279 179.4 284.9 181.2 292.5C183.1 300.1 187.1 314.1 187.5 322C187.9 329.9 184.4 337 183.8 340L183.8 340C184.8 339.2 187.1 338.3 190 335C192.9 331.7 199.2 322.5 201 320L201 320C201.1 316.7 201.6 306.3 201.5 300C201.4 293.7 201.2 287.4 200.5 282C199.8 276.6 198 269.9 197.5 267.5L197.5 267.5C196.7 267.9 196 268.5 192.5 270C189 271.5 179 275.2 176.2 276.2Z" fill="#fff" stroke="#000" stroke-width="3.5" stroke-linecap="round" stroke-linejoin="round" />
<path d="M245 213.8C242.5 220.2 234.6 240.6 230 252.5C225.4 264.4 221.7 274.8 217.5 285C213.3 295.2 209.6 305.7 205 314C200.4 322.3 193.5 330.7 190 335C186.5 339.3 184.8 339.2 183.8 340L183.8 340C185.6 340.2 190.4 341.5 195 341.2C199.6 341 208.5 339.2 211.2 338.8L211.2 338.8C212.3 337.7 214.8 336.9 217.5 332.5C220.2 328.1 224.4 320.9 227.5 312.5C230.6 304.1 233.8 292.8 236.2 282C238.8 271.2 241 258.9 242.5 247.5C244 236.1 244.6 219.4 245 213.8Z" fill="#fff" stroke="#000" stroke-width="3.5" stroke-linecap="round" stroke-linejoin="round" />
<path d="M193.8 222.5C192.7 226.2 188.9 237.9 187.5 245C186.1 252.1 184.7 261 185.5 265C186.3 269 191.3 268.3 192.5 269L192.5 269L197.5 267.5L197.5 267.5C197.1 265.9 195.3 260.9 195 258C194.7 255.1 194.7 253.4 195.5 250C196.3 246.6 198.4 241.7 200 237.5C201.6 233.3 204.2 227.1 205 225L205 225C203.5 224.4 198.1 221.7 196.2 221.2C194.4 220.8 194.2 222.3 193.8 222.5Z" fill="#fff" stroke="#000" stroke-width="3.5" stroke-linecap="round" stroke-linejoin="round" />
<path d="M148 196.2C149 202.7 151.1 224.4 153.8 235C156.4 245.6 160 253.1 163.8 260C167.5 266.9 174.2 273.5 176.2 276.2L176.2 276.2C177.9 275.8 183.3 274.7 186 273.5C188.7 272.3 191.4 269.8 192.5 269L192.5 269C190.8 268.1 186.2 267.3 182.5 263.8C178.8 260.2 174.2 254.4 170 247.5C165.8 240.6 161.2 231 157.5 222.5C153.8 214 149.6 200.6 148 196.2Z" fill="#fff" stroke="#000" stroke-width="3.5" stroke-linecap="round" stroke-linejoin="round" />
<path d="M218.8 161.2C217.9 164.4 216.5 174 213.8 180C211 186 205.6 191 202.5 197.5C199.4 204 196.2 215.4 195 219L195 219C195.2 219.4 194.6 220.2 196.2 221.2C197.9 222.2 203.5 224.4 205 225L205 225C205.8 222.5 208.1 216.7 210 210C211.9 203.3 214.8 193.1 216.2 185C217.7 176.9 218.3 165.2 218.8 161.2Z" fill="#fff" stroke="#000" stroke-width="3.5" stroke-linecap="round" stroke-linejoin="round" />
<path d="M181.8 132.5C182.5 135 184.6 140.8 186 147.5C187.4 154.2 188.9 164.2 190 172.5C191.1 180.8 191.9 189.2 192.5 197.5C193.1 205.8 193.5 218.3 193.8 222.5L193.8 222.5C194.3 220.8 195.5 216.4 197 212C198.5 207.6 201.6 198.7 202.5 196L202.5 196C201.9 191.2 200.4 175.6 198.8 167.5C197.1 159.4 195.3 153.3 192.5 147.5C189.7 141.7 183.5 135 181.8 132.5Z" fill="#fff" stroke="#000" stroke-width="3.5" stroke-linecap="round" stroke-linejoin="round" />
<text transform="translate(300.5 325) scale(0.96 1)" font-size="49.5" text-anchor="middle">1</text>
<line x1="291" y1="311.5" x2="245.6" y2="305" stroke="#000" stroke-width="3.4"/>
<polygon points="235,303.5 247.1,299.9 245.6,305 245.6,310.3" fill="#000"/>
<text transform="translate(290.8 401) scale(0.96 1)" font-size="49.5" text-anchor="middle">2</text>
<line x1="272.5" y1="380" x2="223.4" y2="385.3" stroke="#000" stroke-width="3.4"/>
<polygon points="212.8,386.5 223.7,380 223.4,385.3 224.8,390.5" fill="#000"/>
<text transform="translate(90 717) scale(0.96 1)" font-size="49.5" text-anchor="middle">3</text>
<line x1="89.4" y1="680" x2="82.1" y2="652.8" stroke="#000" stroke-width="3.4"/>
<polygon points="79.3,642.5 87.4,652.2 82.1,652.8 77.2,655" fill="#000"/>
<line x1="105.4" y1="694.6" x2="124.7" y2="704.2" stroke="#000" stroke-width="3.4"/>
<polygon points="134.3,709 121.7,708.6 124.7,704.2 126.3,699.2" fill="#000"/>
<text transform="translate(348.5 513.5) scale(0.96 1)" font-size="49.5" text-anchor="middle">4</text>
<line x1="343" y1="524" x2="343" y2="590.9" stroke="#000" stroke-width="3.4"/>
<polygon points="343,603 337.5,590 343,590.9 348.5,590" fill="#000"/>
<path d="M537.8 427.5C548.8 427.4 579.5 427 604 426.8C628.5 426.6 668.8 426.5 685 426.3C701.2 426.1 691.8 425.8 701 425.5C710.2 425.2 727.7 425.1 740 424.8C752.3 424.5 765.8 424.2 775 423.8C784.2 423.4 789.2 423.1 795 422.5C800.8 421.9 805.5 420.8 810 420.5C814.5 420.2 817.8 420.7 822 421C826.2 421.3 828.2 422 835 422.5C841.8 423 857.9 423.6 862.5 423.8L862.5 811.6L537.8 811.6Z" fill="#c0c0c0" stroke="none" stroke-width="0" stroke-linecap="round" stroke-linejoin="round" />
<path d="M537.8 427.5C548.8 427.4 579.5 427 604 426.8C628.5 426.6 668.8 426.5 685 426.3C701.2 426.1 691.8 425.8 701 425.5C710.2 425.2 727.7 425.1 740 424.8C752.3 424.5 765.8 424.2 775 423.8C784.2 423.4 789.2 423.1 795 422.5C800.8 421.9 805.5 420.8 810 420.5C814.5 420.2 817.8 420.7 822 421C826.2 421.3 828.2 422 835 422.5C841.8 423 857.9 423.6 862.5 423.8" fill="none" stroke="#000" stroke-width="2.5" stroke-linecap="round" stroke-linejoin="round" clip-path="url(#cr2)"/>
<text transform="translate(700.6 59.6) scale(0.9 1)" font-size="35" text-anchor="middle">Рис. 2</text>
<path d="M713.6 124C713.5 125.8 713.2 129.8 712.9 135C712.6 140.2 712.3 147.5 711.9 155C711.4 162.5 710.8 172 710.5 180C710.1 188 710.3 195.7 709.8 203C709.2 210.3 708 217.8 707.4 224C706.7 230.2 706.2 233.7 706 240C705.9 246.3 706.5 254.8 706.5 262C706.6 269.2 707.2 275.8 706.5 283C705.9 290.2 704.3 297.2 702.8 305C701.2 312.8 698.9 321.7 697.4 330C695.8 338.3 694.4 344.7 693.5 355C692.7 365.3 692.7 381.5 692.2 392C691.8 402.5 691.6 412.3 691 418C690.5 423.7 689.9 422.3 688.8 426C687.6 429.7 685.6 435.2 684 440C682.4 444.8 680.1 450 679 455C677.9 460 678.5 463.8 677.5 470C676.5 476.2 674.2 485 673 492C671.8 499 670.3 505.2 670 512C669.7 518.8 670 527 671.2 532.5C672.5 538 676 540.4 677.5 545C679 549.6 679.4 555 680 560C680.6 565 680.4 568.8 681 575C681.6 581.2 683.1 587.5 683.8 597.5C684.4 607.5 684.4 622.5 685 635C685.6 647.5 686.9 660 687.5 672.5C688.1 685 688.3 701.1 688.8 710C689.2 718.9 689.8 723.3 690 726L690.6 726C690.9 723.3 692.2 718.9 692.5 710C692.8 701.1 692.1 682.9 692.5 672.5C692.9 662.1 694.2 655.8 695 647.5C695.8 639.2 696.7 630.8 697.5 622.5C698.3 614.2 700 604.6 700 597.5C700 590.4 698.2 586.2 697.5 580C696.8 573.8 696.6 564.6 696 560C695.4 555.4 694.3 557.1 693.8 552.5C693.2 547.9 692.7 538.8 692.5 532.5C692.3 526.2 692.7 521.2 692.5 515C692.3 508.8 690.7 501.2 691.2 495C691.8 488.8 694.5 483.2 696 478C697.5 472.8 699.3 468.7 700 464C700.7 459.3 699.9 456.3 700 450C700.1 443.7 700.6 431.3 700.5 426C700.4 420.7 699.5 421.5 699.4 418C699.2 414.5 699.2 410.5 699.4 405C699.5 399.5 699.7 392.5 700.2 385C700.8 377.5 701.5 369.2 702.8 360C704 350.8 706.3 339.2 707.9 330C709.4 320.8 711.2 312.8 712.2 305C713.2 297.2 713.8 290.2 713.9 283C713.9 275.8 713.2 268.2 712.8 262C712.3 255.8 711.8 250.5 711.4 246C710.9 241.5 710.1 238.7 710 235C709.8 231.3 709.9 229.3 710.2 224C710.6 218.7 711.6 210.3 712 203C712.3 195.7 712.5 188 712.5 180C712.6 172 712.1 162.5 712.2 155C712.4 147.5 712.9 140.2 713.2 135C713.5 129.8 713.8 125.8 713.9 124Z" fill="#000" stroke="#000" stroke-width="5.0" stroke-linecap="round" stroke-linejoin="round" />
<path d="M682 450C681.2 450.4 681.2 450.4 677.5 452.5C673.8 454.6 665.4 459.6 660 462.5C654.6 465.4 649.2 467.1 645 470C640.8 472.9 638 476.3 635 480C632 483.7 628.3 490 627 492L628 491C629.3 489.6 633.2 485 636 482.5C638.8 480 641 478.3 645 476.2C649 474.2 654.6 472.5 660 470C665.4 467.5 673.8 462.6 677.5 461.2C681.2 459.9 681.2 461.9 682 462Z" fill="#000" stroke="#000" stroke-width="5.0" stroke-linecap="round" stroke-linejoin="round" />
<path d="M672 505C671 505.4 670.3 505.6 666.2 507.5C662.2 509.4 654 512.5 647.5 516.2C641 520 633.3 524.8 627.5 530C621.7 535.2 616.7 541.2 612.5 547.5C608.3 553.8 605.8 560.8 602.5 567.5C599.2 574.2 595.8 582.4 592.5 587.5C589.2 592.6 584.6 596.2 583 598L586 598.5C587.9 597.1 593.9 594.3 597.5 590C601.1 585.7 604.2 578.8 607.5 572.5C610.8 566.2 613.3 558.8 617.5 552.5C621.7 546.2 627.1 540 632.5 535C637.9 530 643.8 526.2 650 522.5C656.2 518.8 666 514.4 670 512.5C674 510.6 673.3 511.2 674 511Z" fill="#000" stroke="#000" stroke-width="5.0" stroke-linecap="round" stroke-linejoin="round" />
<path d="M680 543C679.6 543.1 680.8 542.6 677.5 543.8C674.2 544.9 665.4 547.3 660 550C654.6 552.7 648.2 557.5 645 560C641.8 562.5 641.7 564.2 641 565L642 565.5C642.7 564.8 643.2 563.5 646.2 561.5C649.2 559.5 655 556.2 660 553.8C665 551.4 672.9 548.4 676.2 547.3C679.6 546.2 679.4 547 680 547Z" fill="#000" stroke="#000" stroke-width="5.0" stroke-linecap="round" stroke-linejoin="round" />
<path d="M684 569C683.5 569.2 684.4 568.2 681.2 570C678.1 571.8 670.2 575.8 665 580C659.8 584.2 654.2 589.2 650 595C645.8 600.8 642.3 609.8 640 615C637.7 620.2 636.7 624.2 636 626L636.8 626.5C637.8 624.8 640 621.3 642.5 616.5C645 611.7 647.9 603.1 652 597.5C656.1 591.9 661.9 586.9 667 583C672.1 579.1 679.5 575.6 682.5 574C685.5 572.4 684.6 573.6 685 573.5Z" fill="#000" stroke="#000" stroke-width="5.0" stroke-linecap="round" stroke-linejoin="round" />
<path d="M698 450C698.3 450.4 698.8 450 700 452.5C701.2 455 701.7 461.5 705 465C708.3 468.5 715.4 470.4 720 473.8C724.6 477.1 728.8 480.6 732.5 485C736.2 489.4 739.6 494.2 742.5 500C745.4 505.8 748.2 515 750 520C751.8 525 752.5 528.3 753 530L752 529C751 527.1 748.4 521.9 746 517.5C743.6 513.1 741 507.5 737.5 502.5C734 497.5 729.2 491.5 725 487.5C720.8 483.5 717.1 480.4 712.5 478.8C707.9 477.1 700.6 477 697.5 477.5C694.4 478 694.6 481.2 694 482Z" fill="#000" stroke="#000" stroke-width="5.0" stroke-linecap="round" stroke-linejoin="round" />
<path d="M689 529C689.6 529.2 689 529 692.5 530C696 531 705 532.5 710 535C715 537.5 719 540.8 722.5 545C726 549.2 729.4 555 731.2 560C733.1 565 733.1 569.7 733.8 575C734.4 580.3 734.8 589.2 735 592L734.3 591C733.9 589 732.6 583.8 731.8 579C731 574.2 731.2 567.3 729.3 562C727.4 556.7 724 551 720.5 547C717 543 713.1 540.3 708 538C702.9 535.7 693.2 533.8 690 533C686.8 532.2 689.2 533.4 689 533.5Z" fill="#000" stroke="#000" stroke-width="5.0" stroke-linecap="round" stroke-linejoin="round" />
<path d="M683 606C682.3 607.3 680.2 610.7 679 614C677.8 617.3 676.3 621.7 675.5 626C674.7 630.3 674.2 637.7 674 640L674.5 640C675 638 676.4 631.8 677.5 628C678.6 624.2 679.8 620 681 617C682.2 614 684.3 611.2 685 610Z" fill="#000" stroke="#000" stroke-width="5.0" stroke-linecap="round" stroke-linejoin="round" />
<path d="M699 600C699.5 602 700.8 607.7 702 612C703.2 616.3 704.7 621.7 706 626C707.3 630.3 709.3 636 710 638L709.5 638C708.6 636.3 705.6 631.7 704 628C702.4 624.3 701.2 619.7 700 616C698.8 612.3 697.5 607.7 697 606Z" fill="#000" stroke="#000" stroke-width="5.0" stroke-linecap="round" stroke-linejoin="round" />
<g clip-path="url(#cr)">
<path d="M640 478C637.5 480.8 630 490.5 625 495C620 499.5 614.6 502.1 610 505C605.4 507.9 601.7 507.9 597.5 512.5C593.3 517.1 590.8 527.1 585 532.5C579.2 537.9 566.2 542.9 562.5 545M632.6 486.9L625.2 486L617.9 484.4M627.8 486.3L622.7 490.9M620.4 484.9L616.8 479.4M625 495L626.3 502.1L626 509.3M625.9 499.6L629.8 502.2M626.1 506.8L620.7 510.1M615.8 501.5L611.5 498.4L607.5 494.8M613 499.5L612.8 492.7M608.9 496L604.3 495.9M606.7 506.8L605.6 514.6L604.9 522.5M606.2 510.2L610.7 515.3M605.6 515.4L600.4 518.9M605.1 520.6L609.5 525.1M597.5 512.5L591.3 512.2L585.3 511M593.5 512.3L590.6 507.8M587.4 511.4L583 514.3M591.9 522.2L594.6 526L596.7 530.2M595.2 527.3L602.1 529.1M585.9 531.7L579.3 532.3L573 534.3M581.6 532.1L576.4 527.1M575.2 533.6L573.3 537.9M577 537.9L577.1 543.6L576.1 549.1M577 541.6L573.8 544.8M576.4 547.2L580.7 552.7M566.8 542.9L563.5 540.6L559.6 539.4M562.3 540.2L558.4 543.3M648 470C645.3 468.7 636.7 462 632 462C627.3 462 624 467.3 620 470C616 472.7 610 476.7 608 478M638.9 464.4L632.1 467.5L624.7 469M634.5 466.5L629.4 464.2M627.3 468.5L623.6 474.7M628.7 462.9L624.9 459.8L621.4 456.3M623.8 458.8L619.4 459.9M620.6 469.6L621.8 474.3L622.9 479.1M622.1 475.8L619.8 480.1M611.3 475.8L606.5 475L601.6 474.3M605 474.8L601.4 477.8M652 478C651.7 480 649.7 486.3 650 490C650.3 493.7 653.3 498.3 654 500M650 488.8L645.1 491.5L641.4 495.5M646.8 490.6L645.5 496.1M642.7 494.1L637 492.9M653.4 498.7L658.6 498.6L663.6 499.6M656.7 498.6L660.4 502.2M661.9 499.3L666.8 495.1M615 502C612.5 505 604.5 515.7 600 520C595.5 524.3 593 524.7 588 528C583 531.3 573 538 570 540M608.2 510.5L602.1 509.8L596 509.4M604.3 510L600.4 514.8M598.2 509.6L595.2 505.8M601.4 518.5L603.6 523.4L604.6 528.5M602.8 521.7L609.1 524.1M604.2 526.7L600.8 530.8M593.1 525L588.6 522.3L583.5 520.9M590.2 523.2L589.2 517M585.3 521.4L581.5 524.2M583.5 531L584.2 535.8L585.1 540.6M584.5 537.2L581.2 541.9M574.3 537.2L570.4 536.2L566.5 535.9M569.2 536.1L565.9 532.6M625 495C624.5 497.5 624.2 505.8 622 510C619.8 514.2 615.7 515 612 520C608.3 525 602 536.7 600 540M623.5 505.4L628.1 510.9L632.7 516.4M626.5 509L625 515.8M631.1 514.5L636.6 514.5M618.1 514.3L612 513.7L606 513.4M614.2 513.9L610.5 508.6M608.1 513.5L602.8 518.4M610.2 522.6L612 527L614 531.3M612.6 528.3L608.9 534.2M604.7 531.8L599.7 531.9L594.8 531.4M598.2 531.7L595.5 535.4M590 592C587.9 593.8 581.7 599.8 577.5 602.5C573.3 605.2 569 606.3 565 608C561 609.7 555.6 611.8 553.8 612.5M581.6 599.4L574.5 599L567.4 598.6M577 599.1L572.9 603.7M569.9 598.7L565.4 594.4M572.4 605.1L572.1 613L571.9 620.9M572.3 608.5L577.6 612.1M572.1 613.8L567.6 617.4M571.9 619L576.4 622.9M562.5 609L557.6 606.4L552.2 605.2M559.3 607.3L557.4 601.2M554.1 605.6L549.2 609.4M640 522C637.5 521.7 630 519.7 625 520C620 520.3 614.2 522.3 610 524C605.8 525.7 601.7 529 600 530M629.1 520.1L624.2 513L617.3 507.7M627 517L621 515.7M623.5 512.4L623.3 505.9M618.9 508.9L612 510M618 521.3L615.2 526.9L611.6 532.2M616.1 525L617.9 530.4M612.9 530.3L605.9 530.3M607.5 525.2L601.6 522.4L595.6 520M603.7 523.4L599.1 525M597.7 520.9L595.2 514.4M620 540C617.5 541.3 610 545.3 605 548C600 550.7 595 552 590 556C585 560 578.7 567.2 575 572C571.3 576.8 569.2 582.8 568 585M610 545.3L608.2 550.9L607.3 556.5M608.9 548.9L603.9 551.8M607.6 554.5L612.7 559M600.5 550.1L594.9 546.7L589.2 543.3M596.8 547.9L590.3 549.7M591.2 544.5L589.7 538.5M590.8 555.4L590.2 562.5L588.6 569.4M590.4 560L585.7 563M589.2 567L592.5 572.6M582.8 562.8L577.7 561.4L572.6 559.8M579.5 561.9L576.8 556.3M574.4 560.4L568.9 564.2M575.6 571.3L578 577.6L579 584.3M577.2 575.4L583.1 577.9M578.7 581.9L574.4 586M569.9 580.9L566.2 582L562.5 582.9M565.1 582.3L559.6 578.6M607 562C605 563.3 599.5 567.3 595 570C590.5 572.7 584.2 574.7 580 578C575.8 581.3 571.7 588 570 590M597.8 568.3L589.3 566.4L581 563.7M594.1 567.5L589.2 570.4M588.4 566.2L586.2 559.6M582.9 564.3L577.7 567.3M588.2 573.4L587.8 581.1L588.2 588.8M588 576.7L592.9 581.9M587.8 581.9L583.5 587.2M588.1 587L594.1 590.6M578.8 579.1L574.1 578.6L569.4 578.7M572.7 578.6L569.6 573.5M571.7 587.8L573.2 593.3L575.2 598.6M572.6 591.3L570.1 595.3M574.5 596.8L580.1 598.9M600 580C597.5 581.7 589.7 586.7 585 590C580.3 593.3 575.8 595.3 572 600C568.2 604.7 563.7 615 562 618M590.7 586.1L590.4 594.4L587.7 602.3M590.6 589.7L587.1 592.6M590.2 595.2L593.5 600.6M588.4 600.5L582.7 601.8M581.5 592.3L574.4 587.9L567 584M578.5 590.4L573.3 593M573.7 587.5L573.4 582.8M568.7 584.9L563 586.7M573.2 598.7L574.7 603.9L576.1 609.2M574.1 602.1L579 604.7M575.6 607.4L570.9 612.5M567.3 607.5L562.6 607.3L558 606.6M561.2 607.1L557.5 610.5M562.6 616.9L564.9 621.3L567.1 625.7M565.6 622.6L563.7 626.8M628 540C628.3 542.5 631 550 630 555C629 560 623.7 564.5 622 570C620.3 575.5 620.3 585 620 588M630.2 550.9L623.3 556.5L615.9 561.1M627.2 553.3L620.9 552.2M622.6 557L620.9 562.7M617.6 560.1L610.8 558M627.2 560.9L629.5 568.5L631 576.4M628.2 564.2L624.7 570.2M629.7 569.3L636.2 571.8M630.7 574.6L627.6 578.3M622 570L616.9 572.6L612.5 576.2M618.7 571.7L613.9 570.6M614 575L613.1 580.1M620.4 581L624.5 585.1L628.3 589.6M623.1 583.6L627.9 582.8M627 588L626.1 593.1M612 560C612.7 562.5 616.3 570 616 575C615.7 580 611.7 585 610 590C608.3 595 606.7 602.5 606 605M615.4 570L621.2 572.1L626.8 574.8M619.2 571.4L624.8 567.7M624.8 573.9L626 579.7M614.2 581L606.6 582.3L599.5 585.3M610.9 581.6L606.7 577.1M605.9 582.6L605 587.7M601.2 584.6L595.5 581M609.8 590.8L613.5 596.6L616.2 603.1M612.2 594.6L610.7 601.6M615.2 600.8L620 601.6M606.8 601.6L602.6 602.8L598.7 604.8M601.5 603.4L594.9 600.8M650 518C650 520.8 651.7 530 650 535C648.3 540 641.7 545.8 640 548M650.7 528.7L644.6 532.4L639.5 537.3M646.8 531.1L640.8 529.9M641.3 535.6L641.4 542.3M648 538.8L650.4 543.8L652.8 548.8M649.6 542.1L655.7 543.6M652 547.1L650.4 551.5M641.1 546.8L637.1 547L633.1 547.4M635.9 547.1L632.6 550.9M644 562C643.3 562.9 642.8 562.8 640 567.5C637.2 572.2 631.7 583.3 627.5 590C623.3 596.7 617.1 604.6 615 607.5M638 571L631.8 570.8L625.6 569.7M634 570.9L631.1 567M627.8 570.1L624.4 573.4M632.9 580.5L635.1 585.4L636.7 590.6M634.3 583.7L640.2 585.6M636.1 588.8L633.6 594.7M627.5 590L620.5 591.4L613.7 593.5M623 590.9L620.4 595.2M616.1 592.7L610.8 590.2M621.2 599.2L623.1 602.8L625.3 606.3M623.8 603.9L628.7 604.5M655 556C654.2 558.3 650.8 565.2 650 570C649.2 574.8 650 582.5 650 585M651 566.1L654.9 572.1L658.9 578M653.5 570L660 569.9M657.5 575.9L655.1 582.2M649.6 576.6L644.8 579L639.7 581M646.5 578.2L645.5 584.7M641.5 580.3L635.7 577.4M635 576C633.3 576.7 628.3 578 625 580C621.7 582 616.7 586.7 615 588M625 580L620.2 578.1L615.3 576.8M621.9 578.8L620.5 571.7M617 577.3L613.6 580.4M616.4 586.8L617.7 591.1L618.2 595.6M617.8 592.5L613.5 596.6M640 616C639.2 617.8 636.5 623 635 627C633.5 631 631.9 635.2 631.2 640C630.6 644.8 631.2 653.3 631.2 656M635.5 625.8L628.4 627.7L621.2 628.7M630.9 627L625.8 622.9M623.7 628.3L622 632.5M632.1 635.8L636.9 640.5L640.7 646M635.2 638.9L641.7 638.2M639.4 644.1L638 648.4M631 647L627.3 650.1L624.2 653.8M626.4 651.2L628.4 656.9M660 586C660.7 588 663.3 593.7 664 598C664.7 602.3 664 609.7 664 612M663.6 596L657.8 602.1L651.7 607.9M661.1 598.6L654.8 598.1M657.2 602.7L658.4 608.1M653.2 606.5L647.8 605.1M664.2 606.5L670.1 609.7L675.8 613.4M668.1 608.6L669.4 614.3M673.8 612.1L679.3 610.8M648 600C646.7 601 643.3 604 640 606C636.7 608 631.3 609.3 628 612C624.7 614.7 621.3 620.3 620 622M639.5 606.3L639 612.7L637.9 619M639.2 610.4L643 614M638.3 616.8L633.5 619.1M629.6 610.9L625.2 609.4L620.6 609.2M623.9 609.3L619.8 604.5M622.4 618.5L623.5 622.4L624 626.4M623.7 623.6L628.9 628.1M750 522C751.7 525.4 756.7 536.6 760 542.5C763.3 548.4 767.3 554 770 557.5C772.7 561 775 562.7 776 563.8M754.9 532.5L761.8 533.7L768.8 534.1M759.4 533.3L762.4 537M766.4 534L770.5 528.4M760 542.5L756.8 546.8L754.5 551.6M757.9 545.3L752.4 546.4M755.3 549.9L757.2 556.5M765.8 551.7L771.1 552.5L776.3 554.1M769.2 552.2L771.9 557.3M774.5 553.5L779.8 550.7M772.3 560.2L770.7 564.9L769.4 569.6M770.3 566.3L764.1 568.1M730 484C732.5 483.7 740.3 481.3 745 482C749.7 482.7 754.7 485.8 758 488C761.3 490.2 763.8 493.8 765 495M741 482L745.8 485.9L750.1 490.3M744.1 484.5L750.2 483.9M748.6 488.8L747.6 495.1M751.3 484.1L756.1 481.9L761.2 480.8M754.4 482.7L760.1 485.4M759.4 481.2L762.9 475.9M760.3 489.8L760.8 495.5L762.4 501M760.6 493.5L757.1 496.8M761.8 499.1L766.2 500.9M742 502C744.2 503 751.2 505.8 755 508C758.8 510.2 762.2 512.2 765 515C767.8 517.8 770.8 523.3 772 525M751.7 506.3L752.2 511.9L753.1 517.5M752 509.9L756.5 513.1M752.8 515.5L749.2 520.2M760.9 511.6L765.3 509.1L769.6 506.4M763.8 510L764.2 503.8M768.1 507.3L772.8 509.3M768.4 519.3L767 524.2L765.4 529.2M767.5 522.5L770.7 528.5M766 527.4L761 529.3M748 520C750 521.3 756.3 524.7 760 528C763.7 531.3 767.5 536.7 770 540C772.5 543.3 774.2 546.7 775 548M757.5 526L756.4 533.9L757 541.9M757 529.4L761 533.6M756.4 534.7L752.5 539.2M756.9 540L761.7 543.6M765.4 534L772.6 533.6L779.7 532.8M770.1 533.8L774 536.9M777.2 533.1L779.6 529M771.7 542.5L769.5 546.7L767.3 551M768.9 548L771.5 552.4M712 480C712.3 482 714 487.8 714 492C714 496.2 712.3 502.8 712 505M714 490.7L719.8 494.7L726.1 498.2M717.8 493.3L723.5 491.3M723.9 497L724.2 504M712.7 501.4L707 504.1L701.1 506.5M709 503.1L707.6 508M703.1 505.6L698 501.7M728 492C727.7 494.2 727 500.7 726 505C725 509.3 722.3 514.2 722 518C721.7 521.8 723.7 526.3 724 528M726.4 502.9L730.5 508.8L734.9 514.3M729.1 506.7L727.9 512.2M733.3 512.4L738.4 512.7M723.3 513L717 513.9L710.8 515.2M719.2 513.6L713.9 509.8M713 514.8L711.1 519.7M722.8 523.8L726.5 525.1L730.1 526.7M727.5 525.6L732.6 522M738 506C737.3 508.3 736 516 734 520C732 524 729.7 527.3 726 530C722.3 532.7 714.3 535 712 536M735.4 516.5L728.1 520.4L721.1 524.8M732.2 518.2L727.2 516.5M727.4 520.8L725.9 526M722.7 523.8L716.5 522.9M730.2 526L732.3 530.6L733.8 535.5M731.6 529L728.6 535.3M733.3 533.8L738.4 536.3M721.8 532.3L717.7 529.1L713.2 526.6M719.2 530.2L718.9 524.3M714.8 527.5L709 530.3M734 588C734.2 588.7 733.6 588.3 735 592C736.4 595.7 740 604.2 742.5 610C745 615.8 747.8 623 750 627C752.2 631 755 632.8 756 634M737.5 598.2L746.1 600.5L754.8 602.2M741.2 599.2L746.2 594.7M747 600.6L749.6 607M752.7 601.8L756.9 597.2M741.7 608.2L737.7 613.6L733.4 618.7M739.1 611.7L741.6 618.2M734.9 616.9L730 617.4M746 618.3L752.3 619.1L758.4 621.1M750.1 618.8L754.1 615.4M756.2 620.4L757.3 624.9M750.7 628.1L749.6 632.8L748.5 637.5M749.2 634.2L743.1 636.3M700 538C700 540.3 699.3 547.5 700 552C700.7 556.5 703.3 562.8 704 565M699.7 549L704 551.9L708.4 554.5M702.5 550.9L707.4 550.1M706.8 553.6L708.1 558.5M702 559.4L698.2 564.1L695.5 569.6M699.5 562.5L694 561.9M696.5 567.7L700.2 573.7M716 545C715.3 547.5 712 555 712 560C712 565 715 570 716 575C717 580 717.7 587.5 718 590M712.7 555L718.7 559.9L724.4 565.2M715.3 557.1L720.8 556.1M719.3 560.4L718 566.6M723.1 563.9L727.7 562.9M713.1 566L708.7 572.3L705.7 579.3M711.2 568.7L705.7 568.6M708.4 573L711.1 578.2M706.4 577.7L699.7 580.3M716.3 576.6L721.6 579.8L725.6 584.4M719.7 578.7L724.8 576.1M724.2 582.8L723.8 588.4M717.7 587.3L713.4 591.4L708.9 595.3M714.9 589.9L708 589.7M710.5 593.9L710.7 600.1M728 562C727 564.2 723.3 570.3 722 575C720.7 579.7 719.7 585.8 720 590C720.3 594.2 723.3 598.3 724 600M723 572.1L714.6 574.8L706.4 578.1M719.4 573.2L715.2 570.5M713.8 575.1L710.9 581.5M708.3 577.3L703.8 575.6M720.4 582.7L724.8 586.5L728.8 590.5M723.2 585.1L727.8 584.1M727.4 589.1L726.4 595M720.7 593.1L718.3 598L717.1 603.3M719.1 596.3L714.4 596.7M717.5 601.4L721 605.1M732 572C733.7 573.3 739.7 576.2 742 580C744.3 583.8 745 590.8 746 595C747 599.2 747.7 603.3 748 605M740.7 578.3L739.3 585.5L739.6 592.7M739.8 583L743 587.6M739.5 590.2L734.1 594.9M744.7 588.2L750.3 591.9L754.6 597.1M748.3 590.6L749.7 596M753.1 595.3L760.2 595.4M746.8 598.7L742.3 602.9L739.2 608.3M743.9 601.4L744.6 607.2M740.3 606.4L735.6 607.6M726 552C728 552.7 734.8 553.7 738 556C741.2 558.3 743.3 562 745 566C746.7 570 747.5 577.7 748 580M736.4 555L736.6 563.1L736.4 571.2M736.5 558.5L732.4 561.3M736.6 563.9L742.1 568.4M736.4 569.3L730.5 573.2M743.6 563.1L750.6 563.8L757.2 566.4M748.2 563.5L752.4 568.5M754.9 565.5L761.3 562.5M746.9 573.6L742.7 577.1L739.1 581.3M744.2 575.9L743.5 580.7M740.4 579.9L734.1 580.7M674 640C673.8 641.7 673.6 644.6 672.5 650C671.4 655.4 669.2 664.2 667.5 672.5C665.8 680.8 663.8 693.4 662.5 700C661.2 706.6 660.4 710 660 712M672.3 650.8L665.2 655.1L658.7 660.3M669.2 652.7L668.7 657.4M664.6 655.7L659.7 655.1M660.2 659.1L659.4 664.6M669.9 661.3L674.3 664.7L678.2 668.7M672.8 663.6L672.7 670.1M676.9 667.3L682.3 666.2M667.5 672.5L662.1 675.1L657.7 679.2M664 674.2L662.9 679.4M659.2 677.8L654.2 676.6M665.4 683.9L670.7 689.1L675 695.4M667.7 686.2L667.6 692.4M671.2 689.8L676.5 691.1M674 693.9L672.2 700.3M663.3 695.4L657.4 697.8L652.2 701.6M659.5 697L657.9 702.2M654 700.3L649.3 699.1M661.3 705.8L665.9 709.1L670.3 712.6M664.3 707.9L664.6 712.5M668.8 711.4L675.2 709.8M710 638C710.8 639.6 712.5 642.2 715 647.5C717.5 652.8 722.7 664.1 725 670C727.3 675.9 728.1 680.8 728.8 683M715 647.5L720.9 648.6L726.6 650.3M718.8 648.2L724.5 644M724.6 649.7L727 654.9M719.5 657.3L715.9 661.3L713.5 666M717.2 659.9L712 659.6M714.3 664.3L718 670.5M723.8 667L730.5 668.2L736.7 671M728.2 667.8L732.1 673.5M734.6 670L740.2 667.9M727.3 677.2L724.1 682.3L721.2 687.6M725.2 680.5L719.7 681.4M722.2 685.8L725.4 692M686 660C684.6 662.9 678.1 670.8 677.5 677.5C676.9 684.2 682.5 692.5 682.5 700C682.5 707.5 679.2 716.2 677.5 722.5C675.8 728.8 673.3 735.4 672.5 738M680.3 669.3L671.2 671.7L662 673.9M676.4 670.4L674 676.1M670.3 672L666.6 668.7M664.1 673.4L661.9 677.4M677.5 679.5L682.9 684.4L687.6 689.9M681 682.7L686.2 681.9M686 688L685 693.3M680.6 690.8L677.5 697.3L674.5 703.8M678.6 695L673 696.7M675.6 701.5L677.2 706.7M682.5 701.1L689.2 704.5L695.8 708.2M685.4 702.6L690.5 699.8M689.9 704.8L689.9 711.6M694.3 707.3L699.2 704.7M680.6 711.7L675.3 713.5L669.7 714.8M677.1 712.9L675.1 718.2M671.7 714.4L667.9 710.6M677.5 722.5L680.5 725.5L683.8 728.2M681.5 726.3L687.9 724.9M674.1 733.3L669.8 734.3L665.9 736.6M668.6 735L664 732.7M692.5 672.5C693.8 675.8 697.5 686.2 700 692.5C702.5 698.8 704.8 706.1 707.5 710C710.2 713.9 714.6 715 716 716M696.2 682.6L704.9 683.1L713.5 684.4M700 682.8L703 686.9M705.7 683.2L710.2 679.8M711.5 684.1L714.2 687.9M700 692.5L694.4 698.2L688.8 704M697.6 695L698.1 699.9M693.8 698.8L688.2 698.1M690.1 702.7L690 707.4M704.1 703L709.6 705.3L715.4 707.1M707.7 704.5L712.6 702.9M713.4 706.5L715.8 711.2M709.8 712.4L708.7 716.4L707.4 720.3M708.3 717.6L710.9 723.4M691 725C692.9 727.5 698.9 735.3 702.5 740C706.1 744.7 710.8 750.8 712.5 753M697.5 733.4L703.5 733.7L709.6 734.5M701.4 733.6L705.6 729.5M707.5 734.2L710.2 740.8M704.2 742.2L703.1 748L703.1 754M703.5 746L698 749.9M703.1 751.9L707.3 755.8M710.7 750.7L714.9 749.9L718.9 748.4M716.1 749.4L720.5 752.1M690 726C689.8 730 688.3 742.2 688.8 750C689.2 757.8 691 765.2 692.5 772.5C694 779.8 696.7 790.4 697.5 794M689.1 736.6L680.5 739.6L671.8 742.8M685.4 737.9L683.9 743M679.6 739.9L674.2 735.7M673.8 742.1L672.5 746.7M688.7 747.6L695.7 750.7L702.3 754.7M691.7 748.9L694.3 755.3M696.3 751.1L702.6 749.9M700.7 753.8L702.2 760M689.6 758L685.3 762.9L682 768.5M686.8 761.2L681.7 760.9M683.2 766.6L685.1 773.3M691.8 769.2L697.5 772.3L703.1 775.5M695.5 771.2L696.5 775.8M701.2 774.4L705.3 772.1M694.1 779.7L690.7 785.4L687.7 791.3M691.9 783.4L693.8 789.1M688.8 789.2L682 791.6M696.6 790.2L700.3 792.2L704 794.2M701.4 792.8L703.6 799.4M689 742C687.8 744.2 683.8 750.3 682 755C680.2 759.7 679 765.7 678 770C677 774.3 676.3 779.2 676 781M683.7 751.3L675.2 754.2L667.1 757.9M680 752.5L676.5 758.4M674.4 754.5L670 753.2M669 757L667.8 763.9M679.9 761.8L683.6 766.2L685.8 771.5M682.3 764.7L689.1 764.7M685 769.7L682 774.7M677.4 772.6L671.7 776.1L665.9 779.4M673.7 774.9L668.2 773.8M667.9 778.2L667.2 784.2M698 580C699.3 581.3 703.7 584.7 706 588C708.3 591.3 711 598 712 600M705.6 587.5L703.5 592.9L701.2 598.2M704.2 591L706.6 595.5M702 596.4L696.4 597.9M710.7 597.2L714.7 597.8L718.6 598.3M715.8 597.9L719.1 594.1" fill="none" stroke="#000" stroke-width="2.7" stroke-linecap="round" stroke-linejoin="round" />
</g>
<path d="M713.6 124C713.5 125.8 713.2 129.8 712.9 135C712.6 140.2 712.3 147.5 711.9 155C711.4 162.5 710.8 172 710.5 180C710.1 188 710.3 195.7 709.8 203C709.2 210.3 708 217.8 707.4 224C706.7 230.2 706.2 233.7 706 240C705.9 246.3 706.5 254.8 706.5 262C706.6 269.2 707.2 275.8 706.5 283C705.9 290.2 704.3 297.2 702.8 305C701.2 312.8 698.9 321.7 697.4 330C695.8 338.3 694.4 344.7 693.5 355C692.7 365.3 692.7 381.5 692.2 392C691.8 402.5 691.6 412.3 691 418C690.5 423.7 689.9 422.3 688.8 426C687.6 429.7 685.6 435.2 684 440C682.4 444.8 680.1 450 679 455C677.9 460 678.5 463.8 677.5 470C676.5 476.2 674.2 485 673 492C671.8 499 670.3 505.2 670 512C669.7 518.8 670 527 671.2 532.5C672.5 538 676 540.4 677.5 545C679 549.6 679.4 555 680 560C680.6 565 680.4 568.8 681 575C681.6 581.2 683.1 587.5 683.8 597.5C684.4 607.5 684.4 622.5 685 635C685.6 647.5 686.9 660 687.5 672.5C688.1 685 688.3 701.1 688.8 710C689.2 718.9 689.8 723.3 690 726L690.6 726C690.9 723.3 692.2 718.9 692.5 710C692.8 701.1 692.1 682.9 692.5 672.5C692.9 662.1 694.2 655.8 695 647.5C695.8 639.2 696.7 630.8 697.5 622.5C698.3 614.2 700 604.6 700 597.5C700 590.4 698.2 586.2 697.5 580C696.8 573.8 696.6 564.6 696 560C695.4 555.4 694.3 557.1 693.8 552.5C693.2 547.9 692.7 538.8 692.5 532.5C692.3 526.2 692.7 521.2 692.5 515C692.3 508.8 690.7 501.2 691.2 495C691.8 488.8 694.5 483.2 696 478C697.5 472.8 699.3 468.7 700 464C700.7 459.3 699.9 456.3 700 450C700.1 443.7 700.6 431.3 700.5 426C700.4 420.7 699.5 421.5 699.4 418C699.2 414.5 699.2 410.5 699.4 405C699.5 399.5 699.7 392.5 700.2 385C700.8 377.5 701.5 369.2 702.8 360C704 350.8 706.3 339.2 707.9 330C709.4 320.8 711.2 312.8 712.2 305C713.2 297.2 713.8 290.2 713.9 283C713.9 275.8 713.2 268.2 712.8 262C712.3 255.8 711.8 250.5 711.4 246C710.9 241.5 710.1 238.7 710 235C709.8 231.3 709.9 229.3 710.2 224C710.6 218.7 711.6 210.3 712 203C712.3 195.7 712.5 188 712.5 180C712.6 172 712.1 162.5 712.2 155C712.4 147.5 712.9 140.2 713.2 135C713.5 129.8 713.8 125.8 713.9 124Z" fill="#fff" stroke="none" stroke-width="0" stroke-linecap="round" stroke-linejoin="round" />
<path d="M682 450C681.2 450.4 681.2 450.4 677.5 452.5C673.8 454.6 665.4 459.6 660 462.5C654.6 465.4 649.2 467.1 645 470C640.8 472.9 638 476.3 635 480C632 483.7 628.3 490 627 492L628 491C629.3 489.6 633.2 485 636 482.5C638.8 480 641 478.3 645 476.2C649 474.2 654.6 472.5 660 470C665.4 467.5 673.8 462.6 677.5 461.2C681.2 459.9 681.2 461.9 682 462Z" fill="#fff" stroke="none" stroke-width="0" stroke-linecap="round" stroke-linejoin="round" />
<path d="M672 505C671 505.4 670.3 505.6 666.2 507.5C662.2 509.4 654 512.5 647.5 516.2C641 520 633.3 524.8 627.5 530C621.7 535.2 616.7 541.2 612.5 547.5C608.3 553.8 605.8 560.8 602.5 567.5C599.2 574.2 595.8 582.4 592.5 587.5C589.2 592.6 584.6 596.2 583 598L586 598.5C587.9 597.1 593.9 594.3 597.5 590C601.1 585.7 604.2 578.8 607.5 572.5C610.8 566.2 613.3 558.8 617.5 552.5C621.7 546.2 627.1 540 632.5 535C637.9 530 643.8 526.2 650 522.5C656.2 518.8 666 514.4 670 512.5C674 510.6 673.3 511.2 674 511Z" fill="#fff" stroke="none" stroke-width="0" stroke-linecap="round" stroke-linejoin="round" />
<path d="M680 543C679.6 543.1 680.8 542.6 677.5 543.8C674.2 544.9 665.4 547.3 660 550C654.6 552.7 648.2 557.5 645 560C641.8 562.5 641.7 564.2 641 565L642 565.5C642.7 564.8 643.2 563.5 646.2 561.5C649.2 559.5 655 556.2 660 553.8C665 551.4 672.9 548.4 676.2 547.3C679.6 546.2 679.4 547 680 547Z" fill="#fff" stroke="none" stroke-width="0" stroke-linecap="round" stroke-linejoin="round" />
<path d="M684 569C683.5 569.2 684.4 568.2 681.2 570C678.1 571.8 670.2 575.8 665 580C659.8 584.2 654.2 589.2 650 595C645.8 600.8 642.3 609.8 640 615C637.7 620.2 636.7 624.2 636 626L636.8 626.5C637.8 624.8 640 621.3 642.5 616.5C645 611.7 647.9 603.1 652 597.5C656.1 591.9 661.9 586.9 667 583C672.1 579.1 679.5 575.6 682.5 574C685.5 572.4 684.6 573.6 685 573.5Z" fill="#fff" stroke="none" stroke-width="0" stroke-linecap="round" stroke-linejoin="round" />
<path d="M698 450C698.3 450.4 698.8 450 700 452.5C701.2 455 701.7 461.5 705 465C708.3 468.5 715.4 470.4 720 473.8C724.6 477.1 728.8 480.6 732.5 485C736.2 489.4 739.6 494.2 742.5 500C745.4 505.8 748.2 515 750 520C751.8 525 752.5 528.3 753 530L752 529C751 527.1 748.4 521.9 746 517.5C743.6 513.1 741 507.5 737.5 502.5C734 497.5 729.2 491.5 725 487.5C720.8 483.5 717.1 480.4 712.5 478.8C707.9 477.1 700.6 477 697.5 477.5C694.4 478 694.6 481.2 694 482Z" fill="#fff" stroke="none" stroke-width="0" stroke-linecap="round" stroke-linejoin="round" />
<path d="M689 529C689.6 529.2 689 529 692.5 530C696 531 705 532.5 710 535C715 537.5 719 540.8 722.5 545C726 549.2 729.4 555 731.2 560C733.1 565 733.1 569.7 733.8 575C734.4 580.3 734.8 589.2 735 592L734.3 591C733.9 589 732.6 583.8 731.8 579C731 574.2 731.2 567.3 729.3 562C727.4 556.7 724 551 720.5 547C717 543 713.1 540.3 708 538C702.9 535.7 693.2 533.8 690 533C686.8 532.2 689.2 533.4 689 533.5Z" fill="#fff" stroke="none" stroke-width="0" stroke-linecap="round" stroke-linejoin="round" />
<path d="M683 606C682.3 607.3 680.2 610.7 679 614C677.8 617.3 676.3 621.7 675.5 626C674.7 630.3 674.2 637.7 674 640L674.5 640C675 638 676.4 631.8 677.5 628C678.6 624.2 679.8 620 681 617C682.2 614 684.3 611.2 685 610Z" fill="#fff" stroke="none" stroke-width="0" stroke-linecap="round" stroke-linejoin="round" />
<path d="M699 600C699.5 602 700.8 607.7 702 612C703.2 616.3 704.7 621.7 706 626C707.3 630.3 709.3 636 710 638L709.5 638C708.6 636.3 705.6 631.7 704 628C702.4 624.3 701.2 619.7 700 616C698.8 612.3 697.5 607.7 697 606Z" fill="#fff" stroke="none" stroke-width="0" stroke-linecap="round" stroke-linejoin="round" />
<path d="M713.8 101.5C714.4 101.5 716.5 107.5 716.6 111C716.7 114.5 715.2 122.5 714.6 122.5C714 122.5 713 114.5 712.9 111C712.8 107.5 713.2 101.5 713.8 101.5Z" fill="none" stroke="#000" stroke-width="2.5" stroke-linecap="round" stroke-linejoin="round" />
<path d="M696 112.5C696.9 112 701.8 111.8 704 112.8C706.2 113.8 709.5 117.1 709.5 118.5C709.5 119.9 705.8 121.4 704 121C702.2 120.6 699.8 117.4 698.5 116C697.2 114.6 695.1 113 696 112.5Z" fill="none" stroke="#000" stroke-width="2.5" stroke-linecap="round" stroke-linejoin="round" />
<path d="M709.5 118.5L712 124" fill="none" stroke="#000" stroke-width="2.5" stroke-linecap="round" stroke-linejoin="round" />
<path d="M713.8 153C714.3 152 715.5 148.8 717 147C718.5 145.2 719.9 144.4 722.5 142.5C725.1 140.6 730.8 136.7 732.5 135.5" fill="none" stroke="#000" stroke-width="2.5" stroke-linecap="round" stroke-linejoin="round" />
<path d="M732.5 136C733.3 134.7 735.6 129.9 737.5 128C739.4 126.1 741.8 125.4 744 124.5C746.2 123.6 749.8 122.8 751 122.5C750.6 123.9 749.5 128.7 748.5 131C747.5 133.3 746.5 135.1 745 136.5C743.5 137.9 741.6 139.6 739.5 139.5C737.4 139.4 733.7 136.6 732.5 136" fill="none" stroke="#000" stroke-width="2.5" stroke-linecap="round" stroke-linejoin="round" />
<path d="M732.5 136L738 134" fill="none" stroke="#000" stroke-width="2.5" stroke-linecap="round" stroke-linejoin="round" />
<path d="M707.8 200C707.2 198.3 705.5 193.2 704 190C702.5 186.8 701 183.7 699 181C697 178.3 694.5 175.7 692 174C689.5 172.3 685.3 171.3 684 170.8" fill="none" stroke="#000" stroke-width="2.5" stroke-linecap="round" stroke-linejoin="round" />
<path d="M652.5 158.8C654.2 158.9 659.4 159.5 663 159.8C666.6 160.1 670.5 160.2 674 160.8C677.5 161.4 681.4 162.1 684 163.5C686.6 164.9 688.5 167.2 689.5 169C690.5 170.8 690.4 172.3 690 174C689.6 175.7 688.7 177.9 687 179C685.3 180.1 682.3 180.9 680 180.7C677.7 180.5 675.5 179.6 673 178C670.5 176.4 668.4 174.2 665 171C661.6 167.8 654.6 160.8 652.5 158.8" fill="none" stroke="#000" stroke-width="2.5" stroke-linecap="round" stroke-linejoin="round" />
<path d="M711 226C711.5 224.8 712.5 221.1 714 219C715.5 216.9 717.7 215.2 720 213.5C722.3 211.8 725.2 210.2 728 209C730.8 207.8 733.7 206.8 737 206C740.3 205.2 745 204.4 748 204C751 203.6 753.8 203.6 755 203.5" fill="none" stroke="#000" stroke-width="2.5" stroke-linecap="round" stroke-linejoin="round" />
<path d="M736.5 211C736.8 209.7 736.6 205.3 738 203C739.4 200.7 742.2 198.5 745 197C747.8 195.5 751.2 194.7 755 194C758.8 193.3 763.7 192.9 768 193C772.3 193.1 776.7 194 781 194.5C785.3 195 791.6 196 793.8 196.2C792.8 197.5 790.5 201.6 788 204C785.5 206.4 782.3 208.6 779 210.5C775.7 212.4 771.7 214.2 768 215.5C764.3 216.8 760.5 217.7 757 218C753.5 218.3 749.8 218.1 747 217.5C744.2 216.9 741.8 215.6 740 214.5C738.2 213.4 737.1 211.6 736.5 211" fill="none" stroke="#000" stroke-width="2.5" stroke-linecap="round" stroke-linejoin="round" />
<path d="M661 246.3C662.2 246.3 665.5 246.1 668 246.5C670.5 246.9 673.2 247.7 676 248.8C678.8 249.9 682.2 251.4 685 253C687.8 254.6 690.5 256.4 693 258.5C695.5 260.6 698.2 263.1 700 265.5C701.8 267.9 703 270.6 704 273C705 275.4 705.7 278.8 706 280" fill="none" stroke="#000" stroke-width="2.5" stroke-linecap="round" stroke-linejoin="round" />
<path d="M601.2 250C602.9 249.3 607.5 247.4 611 246C614.5 244.6 618.2 243 622 241.5C625.8 240 630.2 238.2 634 237C637.8 235.8 641.5 234.8 645 234.5C648.5 234.2 651.8 234.2 655 235C658.2 235.8 661.6 237.5 664 239.5C666.4 241.5 668.5 244.6 669.5 247C670.5 249.4 670.4 251.7 670 254C669.6 256.3 668.7 259 667 261C665.3 263 662.8 264.7 660 266C657.2 267.3 653.7 268.3 650 268.8C646.3 269.3 642 269.4 638 268.8C634 268.2 630 267.1 626 265.5C622 263.9 618.1 261.6 614 259C609.9 256.4 603.4 251.5 601.2 250" fill="none" stroke="#000" stroke-width="2.5" stroke-linecap="round" stroke-linejoin="round" />
<path d="M714.5 297C715.1 296 716.4 292.8 718 291C719.6 289.2 721.7 287.9 724 286.5C726.3 285.1 729.2 283.6 732 282.5C734.8 281.4 737.2 280.6 741 280C744.8 279.4 752.2 279 754.5 278.8" fill="none" stroke="#000" stroke-width="2.5" stroke-linecap="round" stroke-linejoin="round" />
<path d="M742.5 279C742.8 277.8 743.2 273.7 744.5 271.5C745.8 269.3 747.8 267.4 750 266C752.2 264.6 754.7 263.8 758 263C761.3 262.2 765.5 261.7 770 261.3C774.5 260.9 780.3 260.7 785 260.5C789.7 260.3 794.3 260.2 798 260C801.7 259.8 805.5 259.6 807 259.5C806.6 261.1 805.8 265.9 804.5 269C803.2 272.1 801.2 275.2 799 278C796.8 280.8 794 283.3 791 285.5C788 287.7 784.5 289.7 781 291C777.5 292.3 773.5 293.2 770 293.5C766.5 293.8 763.2 293.5 760 292.8C756.8 292.1 753.5 290.9 751 289.5C748.5 288.1 746.4 286.2 745 284.5C743.6 282.8 742.9 279.9 742.5 279" fill="none" stroke="#000" stroke-width="2.5" stroke-linecap="round" stroke-linejoin="round" />
<path d="M630 323.8C631.7 323.6 636.7 322.8 640 322.5C643.3 322.2 646.7 321.9 650 322C653.3 322.1 656.8 322.3 660 323C663.2 323.7 666 324.7 669 326C672 327.3 675.2 328.9 678 331C680.8 333.1 683.7 335.9 686 338.5C688.3 341.1 690.4 343.9 692 346.5C693.6 349.1 695.1 352.8 695.8 354" fill="none" stroke="#000" stroke-width="2.5" stroke-linecap="round" stroke-linejoin="round" />
<path d="M566.2 323.8C568 323.1 573.4 321.3 577 320C580.6 318.7 584.2 317.4 588 316C591.8 314.6 596 312.8 600 311.5C604 310.2 607.8 309.1 612 308.3C616.2 307.6 621 306.9 625 307C629 307.1 632.8 307.8 636 309C639.2 310.2 641.9 312 644 314C646.1 316 647.8 318.5 648.5 321C649.2 323.5 649.1 326.6 648.5 329C647.9 331.4 646.8 333.7 645 335.5C643.2 337.3 640.8 338.9 638 340C635.2 341.1 631.7 342 628 342.3C624.3 342.6 620.2 342.6 616 342C611.8 341.4 607.3 340 603 338.5C598.7 337 594.2 334.8 590 333C585.8 331.2 582 329.5 578 328C574 326.5 568.2 324.5 566.2 323.8" fill="none" stroke="#000" stroke-width="2.5" stroke-linecap="round" stroke-linejoin="round" />
<path d="M702.5 376.5C703.2 375.3 705.2 371.6 707 369.5C708.8 367.4 711 365.7 713.5 364C716 362.3 718.9 360.8 722 359.5C725.1 358.2 728.2 357 732 356C735.8 355 740.3 354.1 745 353.5C749.7 352.9 754.8 352.6 760 352.3C765.2 352 773.5 351.8 776.2 351.8" fill="none" stroke="#000" stroke-width="2.5" stroke-linecap="round" stroke-linejoin="round" />
<path d="M702.5 382.5C703.4 381.2 705.8 376.9 708 374.5C710.2 372.1 713.2 370 716 368C718.8 366 722.2 364.1 725 362.5C727.8 360.9 731.7 359.2 733 358.5" fill="none" stroke="#000" stroke-width="2.5" stroke-linecap="round" stroke-linejoin="round" />
<path d="M747.5 354C747.8 352.9 747.9 349.4 749 347.5C750.1 345.6 751.8 343.9 754 342.5C756.2 341.1 758.7 340.1 762 339.3C765.3 338.5 769.7 337.8 774 337.5C778.3 337.2 783.3 337.1 788 337.5C792.7 337.9 797.3 338.9 802 339.8C806.7 340.7 811.3 341.9 816 343C820.7 344.1 825.2 345.2 830 346.5C834.8 347.8 842.5 349.8 845 350.5C844.2 351.9 842.2 356.2 840 359C837.8 361.8 835.2 364.4 832 367C828.8 369.6 825 372.4 821 374.5C817 376.6 812.3 378.3 808 379.5C803.7 380.7 799.3 381.2 795 381.5C790.7 381.8 786.2 381.8 782 381.3C777.8 380.8 773.8 379.9 770 378.5C766.2 377.1 762.2 375.3 759 373C755.8 370.7 752.9 367.7 751 364.5C749.1 361.3 748.1 355.8 747.5 354" fill="none" stroke="#000" stroke-width="2.5" stroke-linecap="round" stroke-linejoin="round" />
<path d="M716.5 146C717.2 145.3 719 146.5 719 148C719 149.5 717.2 154.3 716.5 155C715.8 155.7 714.5 153.5 714.5 152C714.5 150.5 715.8 146.7 716.5 146Z" fill="none" stroke="#000" stroke-width="2.5" stroke-linecap="round" stroke-linejoin="round" />
<path d="M703 182C703.2 181 705.2 182 706 184C706.8 186 707.8 193 707.5 194C707.2 195 705.2 192 704.5 190C703.8 188 702.8 183 703 182Z" fill="none" stroke="#000" stroke-width="2.5" stroke-linecap="round" stroke-linejoin="round" />
<path d="M714.5 211C715.5 210.1 717.7 212.2 717.5 214.5C717.3 216.8 714.5 224.1 713.5 225C712.5 225.9 711.3 222.3 711.5 220C711.7 217.7 713.5 211.9 714.5 211Z" fill="none" stroke="#000" stroke-width="2.5" stroke-linecap="round" stroke-linejoin="round" />
<path d="M700 258C700.6 257 703.5 258 704.5 260C705.5 262 706.6 269 706 270C705.4 271 702 268 701 266C700 264 699.4 259 700 258Z" fill="none" stroke="#000" stroke-width="2.5" stroke-linecap="round" stroke-linejoin="round" />
<path d="M716.5 283C717.5 282.1 719.7 284.2 719.5 286.5C719.3 288.8 716.5 296.1 715.5 297C714.5 297.9 713.3 294.3 713.5 292C713.7 289.7 715.5 283.9 716.5 283Z" fill="none" stroke="#000" stroke-width="2.5" stroke-linecap="round" stroke-linejoin="round" />
<path d="M686.5 324C687.4 323.2 691.2 324.3 692.5 326.5C693.8 328.7 695.4 336.2 694.5 337C693.6 337.8 688.3 333.2 687 331C685.7 328.8 685.6 324.8 686.5 324Z" fill="none" stroke="#000" stroke-width="2.5" stroke-linecap="round" stroke-linejoin="round" />
<path d="M706.5 357C707.6 356 709.8 357.5 709.5 360C709.2 362.5 706.1 371 705 372C703.9 373 702.8 368.5 703 366C703.2 363.5 705.4 358 706.5 357Z" fill="none" stroke="#000" stroke-width="2.5" stroke-linecap="round" stroke-linejoin="round" />
<path d="M712.5 231L714 233.5" fill="none" stroke="#000" stroke-width="2.5" stroke-linecap="round" stroke-linejoin="round" />
<text x="611.5" y="207.3" font-size="30.5" text-anchor="middle">5</text>
<line x1="616.2" y1="211.3" x2="634.3" y2="243.5" stroke="#000" stroke-width="2.5"/>
<polygon points="638,250 630.8,244.9 634.3,243.5 637.3,241.2" fill="#000"/>
<text x="655" y="308.5" font-size="30.5" text-anchor="middle">6</text>
<line x1="668.8" y1="302" x2="690" y2="305.9" stroke="#000" stroke-width="2.5"/>
<polygon points="697.3,307.3 688.7,309.5 690,305.9 690.1,302.2" fill="#000"/>
<text x="780.5" y="477" font-size="30.5" text-anchor="middle">7</text>
<line x1="770" y1="470" x2="739.7" y2="477.1" stroke="#000" stroke-width="2.5"/>
<polygon points="732.5,478.8 739.4,473.3 739.7,477.1 741.1,480.6" fill="#000"/>
<text x="738" y="808" font-size="30.5" text-anchor="middle">8</text>
<line x1="727.5" y1="796" x2="709.1" y2="790.2" stroke="#000" stroke-width="2.5"/>
<polygon points="702,788 710.8,786.8 709.1,790.2 708.5,794" fill="#000"/>
</svg>
</body></html>
